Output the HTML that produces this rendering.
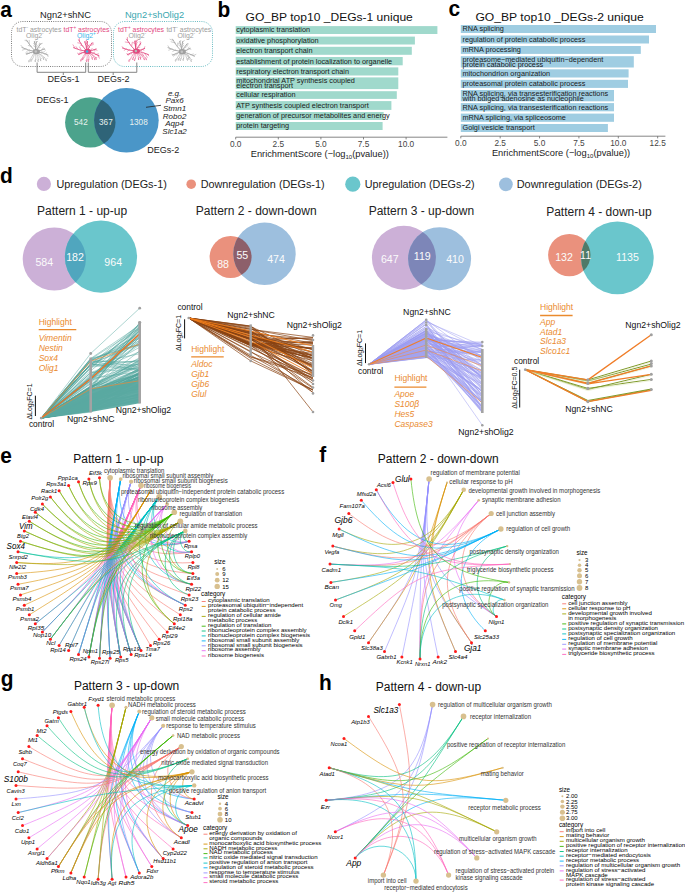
<!DOCTYPE html>
<html><head><meta charset="utf-8"><style>
html,body{margin:0;padding:0;background:#fff;width:685px;height:893px;overflow:hidden}
svg{display:block}
text{font-family:"Liberation Sans",sans-serif}
</style></head><body>
<svg width="685" height="893" viewBox="0 0 685 893">
<rect width="685" height="893" fill="#fff"/>
<text transform="translate(0.30 16.80) scale(0.95 1)" font-size="22" font-weight="bold" fill="#000">a</text>
<text x="65.5" y="17.8" font-size="9.3" fill="#222" text-anchor="middle">Ngn2+shNC</text>
<text x="154.5" y="17.8" font-size="9.3" fill="#3aa7b0" text-anchor="middle">Ngn2+shOlig2</text>
<rect x="11.5" y="21.5" width="100" height="45" rx="11" ry="11" fill="none" stroke="#555" stroke-width="0.85" stroke-dasharray="0.9 1.3"/>
<rect x="113.5" y="21.5" width="99" height="45" rx="11" ry="11" fill="none" stroke="#3aa7b0" stroke-width="0.85" stroke-dasharray="0.9 1.3"/>
<text x="16.5" y="31.6" font-size="6.9"><tspan fill="#9c9c9c">tdT</tspan><tspan fill="#9c9c9c" font-size="4.6" dy="-2.6">-</tspan><tspan dy="2.6"> </tspan><tspan fill="#9c9c9c">astrocytes</tspan></text>
<text x="26.0" y="38.0" font-size="6.9"><tspan fill="#9c9c9c">Olig2</tspan><tspan fill="#9c9c9c" font-size="4.6" dy="-2.6">-</tspan><tspan dy="2.6"> </tspan></text>
<text x="63.5" y="31.6" font-size="6.9"><tspan fill="#e2497f">tdT</tspan><tspan fill="#e2497f" font-size="4.6" dy="-2.6">+</tspan><tspan dy="2.6"> </tspan><tspan fill="#e2497f">astrocytes</tspan></text>
<text x="77.0" y="38.0" font-size="6.9"><tspan fill="#3db4e8">Olig2</tspan><tspan fill="#3db4e8" font-size="4.6" dy="-2.6">+</tspan><tspan dy="2.6"> </tspan></text>
<text x="118.0" y="31.6" font-size="6.9"><tspan fill="#e2497f">tdT</tspan><tspan fill="#e2497f" font-size="4.6" dy="-2.6">+</tspan><tspan dy="2.6"> </tspan><tspan fill="#e2497f">astrocytes</tspan></text>
<text x="128.5" y="38.0" font-size="6.9"><tspan fill="#9c9c9c">Olig2</tspan><tspan fill="#9c9c9c" font-size="4.6" dy="-2.6">-</tspan><tspan dy="2.6"> </tspan></text>
<text x="166.4" y="31.6" font-size="6.9"><tspan fill="#9c9c9c">tdT</tspan><tspan fill="#9c9c9c" font-size="4.6" dy="-2.6">-</tspan><tspan dy="2.6"> </tspan><tspan fill="#9c9c9c">astrocytes</tspan></text>
<text x="177.5" y="38.0" font-size="6.9"><tspan fill="#9c9c9c">Olig2</tspan><tspan fill="#9c9c9c" font-size="4.6" dy="-2.6">-</tspan><tspan dy="2.6"> </tspan></text>
<path d="M35.8 51.6Q30.2 46.6 26.4 40.0 M35.8 51.6Q35.9 46.4 34.4 41.5 M35.8 51.6Q35.3 46.6 36.4 41.6 M35.8 51.6Q37.8 47.1 41.0 43.4 M35.8 51.6Q40.4 50.9 44.6 48.9 M35.8 51.6Q28.5 50.7 21.9 47.5 M35.8 51.6Q30.9 52.1 26.3 54.2 M35.8 51.6Q42.2 52.3 48.0 55.0" stroke="#a0a0a0" stroke-width="0.85" fill="none" stroke-linecap="round"/>
<path d="M31.6 46.4L28.3 45.5 M29.2 43.5L29.2 40.3 M27.3 41.2L24.9 40.4 M35.2 47.1L33.6 45.8 M34.8 44.5L33.5 43.4 M34.5 42.5L35.2 41.0 M36.1 47.1L38.2 45.2 M36.3 44.6L34.7 42.5 M36.4 42.6L37.8 41.2 M38.1 47.9L40.2 47.6 M39.4 45.9L39.4 43.1 M40.5 44.2L42.3 43.4 M39.7 50.4L42.1 51.4 M41.9 49.7L43.2 47.9 M43.7 49.1L45.5 50.2 M29.5 49.8L26.8 51.3 M26.1 48.8L22.3 50.2 M23.3 47.9L20.9 45.3 M31.5 52.8L29.2 51.8 M29.2 53.4L26.8 52.8 M27.3 53.9L25.7 53.1 M41.3 53.1L44.4 51.7 M44.3 54.0L46.7 53.0 M46.8 54.7L48.2 56.7 M34.0 53.1Q31.7 56.6 28.9 62.2q-1.2 -1.5 0.6 -2.6 M34.8 53.1Q34.1 56.6 31.0 61.7q-1.2 -1.5 0.6 -2.6 M35.5 53.1Q36.5 56.6 35.3 62.0q-1.2 -1.5 0.6 -2.6 M36.3 53.1Q38.9 56.6 38.2 61.8q-1.2 -1.5 0.6 -2.6 M37.0 53.1Q41.3 56.6 40.8 61.1q-1.2 -1.5 0.6 -2.6 M37.8 53.1Q43.7 56.6 43.7 59.8q-1.2 -1.5 0.6 -2.6 M38.3 53.1Q45.3 56.6 46.4 61.1q-1.2 -1.5 0.6 -2.6" stroke="#a0a0a0" stroke-width="0.5" fill="none" stroke-linecap="round"/>
<ellipse cx="36.3" cy="51.6" rx="3.6" ry="2.6" fill="#a0a0a0"/>
<circle cx="35.80" cy="51.60" r="1.25" fill="#c4c4c4"/>
<path d="M87.1 51.4Q82.0 46.3 78.6 39.9 M87.1 51.4Q86.7 46.3 84.7 41.6 M87.1 51.4Q86.5 46.4 87.5 41.4 M87.1 51.4Q88.9 46.7 92.1 42.7 M87.1 51.4Q91.8 50.9 96.2 49.0 M87.1 51.4Q80.0 50.7 73.5 47.7 M87.1 51.4Q82.6 52.3 78.6 54.5 M87.1 51.4Q93.4 52.6 99.1 55.8" stroke="#e2497f" stroke-width="0.85" fill="none" stroke-linecap="round"/>
<path d="M83.3 46.2L80.5 45.1 M81.2 43.4L77.7 42.8 M79.5 41.1L79.4 38.4 M86.0 47.0L87.3 44.7 M85.5 44.6L86.5 42.6 M85.0 42.6L86.5 40.3 M87.3 46.9L89.1 44.8 M87.4 44.4L86.2 42.9 M87.5 42.4L86.5 40.8 M89.4 47.5L88.6 45.4 M90.6 45.3L93.3 44.6 M91.6 43.6L93.6 43.1 M91.2 50.3L92.1 48.5 M93.5 49.7L95.1 50.6 M95.3 49.2L97.1 50.4 M81.0 49.7L79.6 47.0 M77.6 48.8L76.0 46.6 M74.9 48.1L73.0 44.8 M83.3 52.8L80.8 52.1 M81.1 53.6L79.5 53.1 M79.4 54.2L77.5 53.2 M92.5 53.4L94.6 52.2 M95.5 54.5L98.6 53.9 M97.9 55.3L99.4 58.2 M85.3 52.9Q83.0 56.4 80.8 61.4q-1.2 -1.5 0.6 -2.6 M86.1 52.9Q85.4 56.4 82.5 60.1q-1.2 -1.5 0.6 -2.6 M86.8 52.9Q87.8 56.4 86.6 61.9q-1.2 -1.5 0.6 -2.6 M87.6 52.9Q90.2 56.4 88.4 61.8q-1.2 -1.5 0.6 -2.6 M88.3 52.9Q92.6 56.4 92.5 59.6q-1.2 -1.5 0.6 -2.6 M89.1 52.9Q95.0 56.4 94.9 60.1q-1.2 -1.5 0.6 -2.6 M89.6 52.9Q96.6 56.4 96.3 59.7q-1.2 -1.5 0.6 -2.6" stroke="#e2497f" stroke-width="0.5" fill="none" stroke-linecap="round"/>
<ellipse cx="87.6" cy="51.4" rx="3.6" ry="2.6" fill="#e2497f"/>
<circle cx="87.10" cy="51.40" r="1.25" fill="#3db4e8"/>
<path d="M135.9 51.1Q130.3 45.9 126.6 39.2 M135.9 51.1Q136.1 46.0 134.7 41.1 M135.9 51.1Q135.1 46.0 136.0 40.9 M135.9 51.1Q137.7 46.6 140.8 43.0 M135.9 51.1Q140.5 50.5 144.7 48.5 M135.9 51.1Q128.9 50.6 122.4 48.0 M135.9 51.1Q131.3 52.2 127.3 54.7 M135.9 51.1Q142.5 51.8 148.5 54.6" stroke="#e2497f" stroke-width="0.85" fill="none" stroke-linecap="round"/>
<path d="M131.7 45.7L132.3 42.4 M129.4 42.7L125.2 42.0 M127.5 40.3L127.4 37.4 M135.4 46.6L136.8 44.2 M135.1 44.1L132.9 42.3 M134.8 42.1L136.4 40.1 M135.9 46.5L134.9 45.1 M136.0 44.0L137.6 42.0 M136.0 41.9L138.0 39.9 M138.1 47.4L139.8 47.1 M139.3 45.4L140.8 44.6 M140.3 43.8L140.1 41.4 M139.9 49.9L141.7 50.7 M142.1 49.3L143.9 50.1 M143.9 48.8L144.8 46.7 M129.8 49.7L127.4 51.2 M126.5 48.9L124.2 50.3 M123.8 48.3L122.2 46.6 M132.0 52.7L131.2 54.1 M129.9 53.6L128.7 55.2 M128.2 54.3L126.8 53.7 M141.6 52.7L143.6 55.7 M144.7 53.5L146.9 56.7 M147.3 54.2L148.9 55.9 M134.2 52.6Q131.8 56.1 129.0 61.7q-1.2 -1.5 0.6 -2.6 M134.9 52.6Q134.2 56.1 132.7 59.9q-1.2 -1.5 0.6 -2.6 M135.7 52.6Q136.6 56.1 134.5 61.0q-1.2 -1.5 0.6 -2.6 M136.4 52.6Q139.0 56.1 138.7 60.0q-1.2 -1.5 0.6 -2.6 M137.2 52.6Q141.4 56.1 140.7 59.5q-1.2 -1.5 0.6 -2.6 M137.9 52.6Q143.8 56.1 144.5 60.1q-1.2 -1.5 0.6 -2.6 M138.4 52.6Q145.4 56.1 146.5 60.1q-1.2 -1.5 0.6 -2.6" stroke="#e2497f" stroke-width="0.5" fill="none" stroke-linecap="round"/>
<ellipse cx="136.4" cy="51.1" rx="3.6" ry="2.6" fill="#e2497f"/>
<circle cx="135.90" cy="51.10" r="1.25" fill="#b8b8b8"/>
<path d="M181.8 51.7Q176.1 46.2 172.5 39.2 M181.8 51.7Q181.6 46.3 179.7 41.3 M181.8 51.7Q181.4 46.5 182.6 41.5 M181.8 51.7Q183.9 47.3 187.2 43.7 M181.8 51.7Q186.3 50.7 190.2 48.4 M181.8 51.7Q174.6 50.8 168.0 47.7 M181.8 51.7Q176.9 52.7 172.6 55.1 M181.8 51.7Q188.5 52.9 194.5 56.2" stroke="#a0a0a0" stroke-width="0.85" fill="none" stroke-linecap="round"/>
<path d="M177.6 46.1L177.7 43.4 M175.3 43.0L171.1 41.8 M173.4 40.5L170.0 39.3 M180.9 47.0L178.7 45.0 M180.4 44.4L178.0 42.9 M179.9 42.3L180.8 40.4 M182.1 47.1L183.6 45.1 M182.3 44.5L183.7 43.2 M182.5 42.5L184.3 40.3 M184.2 48.1L186.0 47.3 M185.6 46.1L187.7 45.8 M186.6 44.5L188.5 43.9 M185.6 50.2L187.0 50.8 M187.7 49.4L189.0 47.1 M189.4 48.7L190.9 49.3 M175.6 49.9L172.8 51.3 M172.1 48.9L168.7 50.2 M169.4 48.1L168.0 45.8 M177.7 53.2L176.3 55.2 M175.4 54.1L173.7 56.3 M173.5 54.8L171.9 54.2 M187.5 53.7L189.2 57.2 M190.7 54.8L193.4 54.0 M193.3 55.7L195.9 54.4 M180.1 53.2Q177.7 56.7 175.5 61.4q-1.2 -1.5 0.6 -2.6 M180.8 53.2Q180.1 56.7 178.3 60.5q-1.2 -1.5 0.6 -2.6 M181.6 53.2Q182.5 56.7 180.3 60.9q-1.2 -1.5 0.6 -2.6 M182.3 53.2Q184.9 56.7 183.2 60.7q-1.2 -1.5 0.6 -2.6 M183.1 53.2Q187.3 56.7 187.5 60.6q-1.2 -1.5 0.6 -2.6 M183.8 53.2Q189.7 56.7 189.0 59.8q-1.2 -1.5 0.6 -2.6 M184.3 53.2Q191.3 56.7 191.3 61.8q-1.2 -1.5 0.6 -2.6" stroke="#a0a0a0" stroke-width="0.5" fill="none" stroke-linecap="round"/>
<ellipse cx="182.3" cy="51.7" rx="3.6" ry="2.6" fill="#a0a0a0"/>
<circle cx="181.80" cy="51.70" r="1.25" fill="#c4c4c4"/>
<path d="M37.1 62.5V72.3H85.7V62.5M63.3 72.3V75" stroke="#777" stroke-width="0.9" fill="none"/>
<path d="M88.3 62.5V72.3H136.8V62.5M113.2 72.3V75" stroke="#777" stroke-width="0.9" fill="none"/>
<text x="63.4" y="82.4" font-size="9" fill="#222" text-anchor="middle">DEGs-1</text>
<text x="113.5" y="82.4" font-size="9" fill="#222" text-anchor="middle">DEGs-2</text>
<defs><clipPath id="cg"><circle cx="90.3" cy="122.4" r="25.2"/></clipPath></defs>
<circle cx="90.30" cy="122.40" r="25.20" fill="#4ca38c"/>
<circle cx="126.40" cy="120.30" r="32.30" fill="#4a96c8"/>
<circle cx="126.40" cy="120.30" r="32.30" fill="#2f6478" clip-path="url(#cg)"/>
<text x="80.9" y="124.7" font-size="8.2" fill="#e8f2ee" text-anchor="middle">542</text>
<text x="105.9" y="124.7" font-size="8.2" fill="#e8f2ee" text-anchor="middle">367</text>
<text x="138.6" y="124.7" font-size="8.2" fill="#e8f2ee" text-anchor="middle">1308</text>
<text x="52.5" y="103.2" font-size="9" fill="#222" text-anchor="middle">DEGs-1</text>
<text x="163.2" y="152.8" font-size="9" fill="#222" text-anchor="middle">DEGs-2</text>
<text x="174.6" y="95.5" font-size="8" fill="#222" text-anchor="middle" font-style="italic">e.g.</text>
<text x="174.6" y="103.2" font-size="8" fill="#222" text-anchor="middle" font-style="italic">Pax6</text>
<text x="174.6" y="110.9" font-size="8" fill="#222" text-anchor="middle" font-style="italic">Stmn1</text>
<text x="174.6" y="118.6" font-size="8" fill="#222" text-anchor="middle" font-style="italic">Robo2</text>
<text x="174.6" y="126.3" font-size="8" fill="#222" text-anchor="middle" font-style="italic">Aqp4</text>
<text x="174.6" y="134.0" font-size="8" fill="#222" text-anchor="middle" font-style="italic">Slc1a2</text>
<line x1="146.00" y1="107.30" x2="161.00" y2="105.30" stroke="#222" stroke-width="0.8"/>
<text transform="translate(217.40 16.70) scale(0.95 1)" font-size="22" font-weight="bold" fill="#000">b</text>
<text x="245.6" y="21.0" font-size="11.8" fill="#111" textLength="167.2" lengthAdjust="spacingAndGlyphs">GO_BP top10 _DEGs-1 unique</text>
<rect x="235.70" y="26.10" width="201.70" height="7.90" fill="#a0d9cc"/>
<text x="236.3" y="32.3" font-size="7.3" fill="#1a1a1a">cytoplasmic translation</text>
<rect x="235.70" y="36.60" width="179.20" height="7.90" fill="#a0d9cc"/>
<text x="236.3" y="42.8" font-size="7.3" fill="#1a1a1a">oxidative phosphorylation</text>
<rect x="235.70" y="46.80" width="176.10" height="8.00" fill="#a0d9cc"/>
<text x="236.3" y="53.1" font-size="7.3" fill="#1a1a1a">electron transport chain</text>
<rect x="235.70" y="57.00" width="167.00" height="8.30" fill="#a0d9cc"/>
<text x="236.3" y="63.6" font-size="7.3" fill="#1a1a1a">establishment of protein localization to organelle</text>
<rect x="235.70" y="67.40" width="162.60" height="8.10" fill="#a0d9cc"/>
<text x="236.3" y="73.8" font-size="7.3" fill="#1a1a1a">respiratory electron transport chain</text>
<rect x="235.70" y="77.40" width="162.60" height="11.70" fill="#a0d9cc"/>
<text x="236.3" y="83.3" font-size="7.3" fill="#1a1a1a">mitochondrial ATP synthesis coupled</text>
<text x="236.3" y="88.2" font-size="7.3" fill="#1a1a1a">electron transport</text>
<rect x="235.70" y="91.20" width="161.10" height="7.70" fill="#a0d9cc"/>
<text x="236.3" y="97.2" font-size="7.3" fill="#1a1a1a">cellular respiration</text>
<rect x="235.70" y="101.10" width="155.70" height="8.80" fill="#a0d9cc"/>
<text x="236.3" y="108.2" font-size="7.3" fill="#1a1a1a">ATP synthesis coupled electron transport</text>
<rect x="235.70" y="112.00" width="147.90" height="8.00" fill="#a0d9cc"/>
<text x="236.3" y="118.3" font-size="7.3" fill="#1a1a1a">generation of precursor metabolites and energy</text>
<rect x="235.70" y="122.00" width="146.90" height="8.00" fill="#a0d9cc"/>
<text x="236.3" y="128.3" font-size="7.3" fill="#1a1a1a">protein targeting</text>
<line x1="235.70" y1="137.20" x2="447.40" y2="137.20" stroke="#666" stroke-width="0.8"/>
<line x1="235.70" y1="137.20" x2="235.70" y2="139.40" stroke="#666" stroke-width="0.8"/>
<text x="235.7" y="146.9" font-size="8.3" fill="#444" text-anchor="middle">0.0</text>
<line x1="278.30" y1="137.20" x2="278.30" y2="139.40" stroke="#666" stroke-width="0.8"/>
<text x="278.3" y="146.9" font-size="8.3" fill="#444" text-anchor="middle">2.5</text>
<line x1="320.90" y1="137.20" x2="320.90" y2="139.40" stroke="#666" stroke-width="0.8"/>
<text x="320.9" y="146.9" font-size="8.3" fill="#444" text-anchor="middle">5.0</text>
<line x1="363.50" y1="137.20" x2="363.50" y2="139.40" stroke="#666" stroke-width="0.8"/>
<text x="363.5" y="146.9" font-size="8.3" fill="#444" text-anchor="middle">7.5</text>
<line x1="406.10" y1="137.20" x2="406.10" y2="139.40" stroke="#666" stroke-width="0.8"/>
<text x="406.1" y="146.9" font-size="8.3" fill="#444" text-anchor="middle">10.0</text>
<text x="250.7" y="157.1" font-size="9.3" fill="#222">EnrichmentScore (−log<tspan font-size="6" dy="2">10</tspan><tspan dy="-2">(pvalue))</tspan></text>
<text transform="translate(448.50 16.40) scale(0.95 1)" font-size="22" font-weight="bold" fill="#000">c</text>
<text x="475.4" y="21.0" font-size="11.8" fill="#111" textLength="168.4" lengthAdjust="spacingAndGlyphs">GO_BP top10 _DEGs-2 unique</text>
<rect x="460.80" y="25.00" width="195.20" height="8.00" fill="#9fcde2"/>
<text x="462.5" y="31.3" font-size="7.3" fill="#1a1a1a">RNA splicing</text>
<rect x="460.80" y="35.50" width="188.20" height="8.00" fill="#9fcde2"/>
<text x="462.5" y="41.8" font-size="7.3" fill="#1a1a1a">regulation of protein catabolic process</text>
<rect x="460.80" y="46.00" width="180.00" height="7.90" fill="#9fcde2"/>
<text x="462.5" y="52.2" font-size="7.3" fill="#1a1a1a">mRNA processing</text>
<rect x="460.80" y="56.20" width="173.00" height="11.30" fill="#9fcde2"/>
<text x="462.5" y="62.1" font-size="7.3" fill="#1a1a1a">proteasome−mediated ubiquitin−dependent</text>
<text x="462.5" y="66.8" font-size="7.3" fill="#1a1a1a">protein catabolic process</text>
<rect x="460.80" y="69.30" width="167.80" height="8.20" fill="#9fcde2"/>
<text x="462.5" y="75.8" font-size="7.3" fill="#1a1a1a">mitochondrion organization</text>
<rect x="460.80" y="79.80" width="167.20" height="8.10" fill="#9fcde2"/>
<text x="462.5" y="86.2" font-size="7.3" fill="#1a1a1a">proteasomal protein catabolic process</text>
<rect x="460.80" y="90.00" width="153.20" height="11.30" fill="#9fcde2"/>
<text x="462.5" y="95.9" font-size="7.3" fill="#1a1a1a">RNA splicing, via transesterification reactions</text>
<text x="462.5" y="100.6" font-size="7.3" fill="#1a1a1a">with bulged adenosine as nucleophile</text>
<rect x="460.80" y="103.10" width="153.20" height="8.20" fill="#9fcde2"/>
<text x="462.5" y="109.6" font-size="7.3" fill="#1a1a1a">RNA splicing, via transesterification reactions</text>
<rect x="460.80" y="113.60" width="153.20" height="8.20" fill="#9fcde2"/>
<text x="462.5" y="120.1" font-size="7.3" fill="#1a1a1a">mRNA splicing, via spliceosome</text>
<rect x="460.80" y="124.00" width="147.10" height="8.00" fill="#9fcde2"/>
<text x="462.5" y="130.3" font-size="7.3" fill="#1a1a1a">Golgi vesicle transport</text>
<line x1="460.80" y1="136.20" x2="665.40" y2="136.20" stroke="#666" stroke-width="0.8"/>
<line x1="460.80" y1="136.20" x2="460.80" y2="138.40" stroke="#666" stroke-width="0.8"/>
<text x="460.8" y="145.5" font-size="8.3" fill="#444" text-anchor="middle">0.0</text>
<line x1="500.18" y1="136.20" x2="500.18" y2="138.40" stroke="#666" stroke-width="0.8"/>
<text x="500.2" y="145.5" font-size="8.3" fill="#444" text-anchor="middle">2.5</text>
<line x1="539.55" y1="136.20" x2="539.55" y2="138.40" stroke="#666" stroke-width="0.8"/>
<text x="539.5" y="145.5" font-size="8.3" fill="#444" text-anchor="middle">5.0</text>
<line x1="578.92" y1="136.20" x2="578.92" y2="138.40" stroke="#666" stroke-width="0.8"/>
<text x="578.9" y="145.5" font-size="8.3" fill="#444" text-anchor="middle">7.5</text>
<line x1="618.30" y1="136.20" x2="618.30" y2="138.40" stroke="#666" stroke-width="0.8"/>
<text x="618.3" y="145.5" font-size="8.3" fill="#444" text-anchor="middle">10.0</text>
<line x1="657.67" y1="136.20" x2="657.67" y2="138.40" stroke="#666" stroke-width="0.8"/>
<text x="657.7" y="145.5" font-size="8.3" fill="#444" text-anchor="middle">12.5</text>
<text x="491.9" y="156.3" font-size="9.3" fill="#222">EnrichmentScore (−log<tspan font-size="6" dy="2">10</tspan><tspan dy="-2">(pvalue))</tspan></text>
<text transform="translate(0.00 183.20) scale(0.95 1)" font-size="22" font-weight="bold" fill="#000">d</text>
<circle cx="43.90" cy="183.90" r="7.10" fill="#ccb0d7"/>
<text x="56.5" y="187.9" font-size="10.6" fill="#222" textLength="110.3" lengthAdjust="spacingAndGlyphs">Upregulation (DEGs-1)</text>
<circle cx="191.20" cy="184.20" r="4.80" fill="#ea917d"/>
<text x="200.7" y="187.7" font-size="10.6" fill="#222" textLength="123.9" lengthAdjust="spacingAndGlyphs">Downregulation (DEGs-1)</text>
<circle cx="352.80" cy="184.20" r="7.60" fill="#6ac6cc"/>
<text x="364.8" y="187.7" font-size="10.6" fill="#222" textLength="109.8" lengthAdjust="spacingAndGlyphs">Upregulation (DEGs-2)</text>
<circle cx="505.90" cy="184.30" r="6.90" fill="#9dbfde"/>
<text x="516.7" y="188.0" font-size="10.6" fill="#222" textLength="125.1" lengthAdjust="spacingAndGlyphs">Downregulation (DEGs-2)</text>
<text x="82.1" y="214.9" font-size="12" fill="#222" text-anchor="middle">Pattern 1 - up-up</text>
<text x="256.2" y="214.8" font-size="12" fill="#222" text-anchor="middle">Pattern 2 - down-down</text>
<text x="421.4" y="214.8" font-size="12" fill="#222" text-anchor="middle">Pattern 3 - up-down</text>
<text x="598.9" y="215.5" font-size="12" fill="#222" text-anchor="middle">Pattern 4 - down-up</text>
<defs><clipPath id="v1"><circle cx="54.3" cy="259.0" r="31.6"/></clipPath></defs>
<circle cx="54.30" cy="259.00" r="31.60" fill="#ccb0d7"/>
<circle cx="101.00" cy="256.70" r="36.10" fill="#6ac6cc"/>
<circle cx="101.00" cy="256.70" r="36.10" fill="#50a6be" clip-path="url(#v1)"/>
<text x="44.3" y="266.0" font-size="10.6" fill="#fbfbfb" text-anchor="middle">584</text>
<text x="75.0" y="261.3" font-size="10.6" fill="#fbfbfb" text-anchor="middle">182</text>
<text x="113.2" y="266.0" font-size="10.6" fill="#fbfbfb" text-anchor="middle">964</text>
<defs><clipPath id="v2"><circle cx="230.6" cy="257.0" r="21.0"/></clipPath></defs>
<circle cx="230.60" cy="257.00" r="21.00" fill="#ea917d"/>
<circle cx="264.50" cy="253.80" r="31.20" fill="#9dbfde"/>
<circle cx="264.50" cy="253.80" r="31.20" fill="#8d5f6a" clip-path="url(#v2)"/>
<text x="223.1" y="267.8" font-size="10.6" fill="#fbfbfb" text-anchor="middle">88</text>
<text x="242.3" y="258.8" font-size="10.6" fill="#fbfbfb" text-anchor="middle">55</text>
<text x="276.0" y="262.9" font-size="10.6" fill="#fbfbfb" text-anchor="middle">474</text>
<defs><clipPath id="v3"><circle cx="403.9" cy="257.7" r="32.0"/></clipPath></defs>
<circle cx="403.90" cy="257.70" r="32.00" fill="#ccb0d7"/>
<circle cx="439.60" cy="258.70" r="31.50" fill="#9dbfde"/>
<circle cx="439.60" cy="258.70" r="31.50" fill="#7d86b8" clip-path="url(#v3)"/>
<text x="389.8" y="263.4" font-size="10.6" fill="#fbfbfb" text-anchor="middle">647</text>
<text x="422.3" y="259.6" font-size="10.6" fill="#fbfbfb" text-anchor="middle">119</text>
<text x="455.0" y="263.4" font-size="10.6" fill="#fbfbfb" text-anchor="middle">410</text>
<defs><clipPath id="v4"><circle cx="569.3" cy="255.1" r="21.2"/></clipPath></defs>
<circle cx="569.30" cy="255.10" r="21.20" fill="#ea917d"/>
<circle cx="617.40" cy="257.90" r="36.30" fill="#6ac6cc"/>
<circle cx="617.40" cy="257.90" r="36.30" fill="#4f7a68" clip-path="url(#v4)"/>
<text x="564.0" y="261.3" font-size="10.6" fill="#fbfbfb" text-anchor="middle">132</text>
<text x="585.6" y="259.4" font-size="10.6" fill="#fbfbfb" text-anchor="middle">11</text>
<text x="627.5" y="261.3" font-size="10.6" fill="#fbfbfb" text-anchor="middle">1135</text>
<path d="M41.2 418.1L90.7 372.5L139.7 368.2 M41.2 418.1L90.7 372.9L139.7 351.6 M41.2 418.1L90.7 363.9L139.7 353.7 M41.2 418.1L90.7 383.4L139.7 337.5 M41.2 418.1L90.7 360.9L139.7 338.1 M41.2 418.1L90.7 359.3L139.7 344.2 M41.2 418.1L90.7 378.9L139.7 330.3 M41.2 418.1L90.7 358.5L139.7 325.4 M41.2 418.1L90.7 364.1L139.7 324.0 M41.2 418.1L90.7 372.8L139.7 364.2 M41.2 418.1L90.7 374.6L139.7 347.2 M41.2 418.1L90.7 379.2L139.7 336.3 M41.2 418.1L90.7 389.9L139.7 341.4 M41.2 418.1L90.7 380.6L139.7 333.9 M41.2 418.1L90.7 367.2L139.7 360.4 M41.2 418.1L90.7 370.8L139.7 331.2 M41.2 418.1L90.7 388.7L139.7 322.5 M41.2 418.1L90.7 364.7L139.7 333.1 M41.2 418.1L90.7 389.4L139.7 326.1 M41.2 418.1L90.7 378.1L139.7 335.9 M41.2 418.1L90.7 360.8L139.7 370.2 M41.2 418.1L90.7 382.3L139.7 334.7 M41.2 418.1L90.7 361.2L139.7 362.0 M41.2 418.1L90.7 363.7L139.7 344.6 M41.2 418.1L90.7 364.1L139.7 329.0 M41.2 418.1L90.7 378.6L139.7 343.3 M41.2 418.1L90.7 364.8L139.7 370.6 M41.2 418.1L90.7 383.7L139.7 366.3 M41.2 418.1L90.7 364.7L139.7 364.8 M41.2 418.1L90.7 378.5L139.7 371.5 M41.2 418.1L90.7 364.8L139.7 360.7 M41.2 418.1L90.7 368.5L139.7 326.1 M41.2 418.1L90.7 360.9L139.7 334.5 M41.2 418.1L90.7 377.2L139.7 344.9 M41.2 418.1L90.7 388.7L139.7 350.9 M41.2 418.1L90.7 385.7L139.7 330.1 M41.2 418.1L90.7 387.1L139.7 328.1 M41.2 418.1L90.7 364.1L139.7 369.1 M41.2 418.1L90.7 364.3L139.7 342.3 M41.2 418.1L90.7 377.3L139.7 327.6 M41.2 418.1L90.7 359.2L139.7 327.9 M41.2 418.1L90.7 380.5L139.7 363.3 M41.2 418.1L90.7 377.1L139.7 331.2 M41.2 418.1L90.7 381.1L139.7 333.8 M41.2 418.1L90.7 375.9L139.7 336.3 M41.2 418.1L90.7 367.0L139.7 327.1 M41.2 418.1L90.7 358.5L139.7 344.6 M41.2 418.1L90.7 359.9L139.7 340.8 M41.2 418.1L90.7 376.3L139.7 340.4 M41.2 418.1L90.7 386.5L139.7 337.3 M41.2 418.1L90.7 380.1L139.7 329.4 M41.2 418.1L90.7 359.1L139.7 367.6 M41.2 418.1L90.7 380.4L139.7 323.0 M41.2 418.1L90.7 378.4L139.7 358.7 M41.2 418.1L90.7 368.2L139.7 324.2 M41.2 418.1L90.7 400.2L139.7 377.0 M41.2 418.1L90.7 409.4L139.7 386.2 M41.2 418.1L90.7 404.3L139.7 379.7 M41.2 418.1L90.7 409.8L139.7 396.6 M41.2 418.1L90.7 403.8L139.7 376.4 M41.2 418.1L90.7 408.6L139.7 393.8 M41.2 418.1L90.7 406.6L139.7 380.1 M41.2 418.1L90.7 400.9L139.7 380.6 M41.2 418.1L90.7 395.9L139.7 376.8 M41.2 418.1L90.7 401.8L139.7 395.7 M41.2 418.1L90.7 402.6L139.7 372.8 M41.2 418.1L90.7 408.9L139.7 385.9 M41.2 418.1L90.7 396.1L139.7 373.0 M41.2 418.1L90.7 401.1L139.7 385.7 M41.2 418.1L90.7 407.8L139.7 401.6 M41.2 418.1L90.7 405.5L139.7 400.7 M41.2 418.1L90.7 401.6L139.7 385.1 M41.2 418.1L90.7 392.0L139.7 369.8 M41.2 418.1L90.7 398.9L139.7 379.0 M41.2 418.1L90.7 409.9L139.7 399.3 M41.2 418.1L90.7 386.3L139.7 374.5 M41.2 418.1L90.7 403.6L139.7 394.4 M41.2 418.1L90.7 390.4L139.7 362.9 M41.2 418.1L90.7 403.2L139.7 387.7 M41.2 418.1L90.7 409.2L139.7 396.7 M41.2 418.1L90.7 403.3L139.7 394.2 M41.2 418.1L90.7 397.2L139.7 372.2 M41.2 418.1L90.7 409.8L139.7 382.9 M41.2 418.1L90.7 396.0L139.7 376.8 M41.2 418.1L90.7 394.2L139.7 386.7 M41.2 418.1L90.7 398.9L139.7 373.1 M41.2 418.1L90.7 408.1L139.7 385.6 M41.2 418.1L90.7 410.7L139.7 399.5 M41.2 418.1L90.7 390.4L139.7 374.7 M41.2 418.1L90.7 393.2L139.7 383.6 M41.2 418.1L90.7 396.8L139.7 376.5 M41.2 418.1L90.7 398.8L139.7 386.6 M41.2 418.1L90.7 407.8L139.7 378.3 M41.2 418.1L90.7 397.8L139.7 391.8 M41.2 418.1L90.7 386.8L139.7 360.1 M41.2 418.1L90.7 387.1L139.7 364.7 M41.2 418.1L90.7 400.8L139.7 388.8 M41.2 418.1L90.7 406.6L139.7 402.1 M41.2 418.1L90.7 389.5L139.7 373.7 M41.2 418.1L90.7 386.6L139.7 361.1 M41.2 418.1L90.7 392.2L139.7 384.5 M41.2 418.1L90.7 387.2L139.7 366.9 M41.2 418.1L90.7 397.6L139.7 377.2 M41.2 418.1L90.7 403.0L139.7 378.0 M41.2 418.1L90.7 410.9L139.7 389.1 M41.2 418.1L90.7 391.2L139.7 374.8 M41.2 418.1L90.7 390.6L139.7 386.4 M41.2 418.1L90.7 398.3L139.7 375.7 M41.2 418.1L90.7 390.7L139.7 379.6 M41.2 418.1L90.7 395.0L139.7 372.9 M41.2 418.1L90.7 399.5L139.7 379.6 M41.2 418.1L90.7 405.7L139.7 391.4 M41.2 418.1L90.7 406.6L139.7 379.0 M41.2 418.1L90.7 388.3L139.7 360.0 M41.2 418.1L90.7 404.8L139.7 397.4 M41.2 418.1L90.7 397.8L139.7 377.5 M41.2 418.1L90.7 409.7L139.7 395.9 M41.2 418.1L90.7 400.8L139.7 373.9 M41.2 418.1L90.7 406.7L139.7 378.2 M41.2 418.1L90.7 398.1L139.7 377.1 M41.2 418.1L90.7 391.3L139.7 368.6 M41.2 418.1L90.7 407.3L139.7 386.6 M41.2 418.1L90.7 404.7L139.7 395.1 M41.2 418.1L90.7 409.4L139.7 379.9 M41.2 418.1L90.7 411.4L139.7 393.5 M41.2 418.1L90.7 406.6L139.7 394.2 M41.2 418.1L90.7 409.7L139.7 383.4 M41.2 418.1L90.7 395.1L139.7 388.9 M41.2 418.1L90.7 397.5L139.7 379.2 M41.2 418.1L90.7 406.0L139.7 389.3 M41.2 418.1L90.7 386.7L139.7 361.7 M41.2 418.1L90.7 387.7L139.7 362.9 M41.2 418.1L90.7 390.5L139.7 377.8 M41.2 418.1L90.7 406.5L139.7 398.8 M41.2 418.1L90.7 389.9L139.7 372.4 M41.2 418.1L90.7 404.8L139.7 379.0 M41.2 418.1L90.7 403.9L139.7 375.3 M41.2 418.1L90.7 398.8L139.7 370.1 M41.2 418.1L90.7 388.2L139.7 378.5 M41.2 418.1L90.7 399.7L139.7 388.1 M41.2 418.1L90.7 404.9L139.7 384.3 M41.2 418.1L90.7 399.6L139.7 373.7 M41.2 418.1L90.7 400.6L139.7 388.5 M41.2 418.1L90.7 395.9L139.7 369.9 M41.2 418.1L90.7 409.4L139.7 400.0 M41.2 418.1L90.7 408.1L139.7 378.9 M41.2 418.1L90.7 399.6L139.7 380.7 M41.2 418.1L90.7 391.2L139.7 373.3 M41.2 418.1L90.7 399.1L139.7 379.3 M41.2 418.1L90.7 386.7L139.7 357.5 M41.2 418.1L90.7 399.4L139.7 385.0 M41.2 418.1L90.7 406.8L139.7 388.2 M41.2 418.1L90.7 398.8L139.7 376.8 M41.2 418.1L90.7 387.7L139.7 369.7 M41.2 418.1L90.7 396.8L139.7 367.9 M41.2 418.1L90.7 410.0L139.7 399.0 M41.2 418.1L90.7 398.3L139.7 391.0 M41.2 418.1L90.7 397.3L139.7 372.1 M41.2 418.1L90.7 409.4L139.7 393.0 M41.2 418.1L90.7 394.2L139.7 385.3 M41.2 418.1L90.7 402.1L139.7 374.0 M41.2 418.1L90.7 389.4L139.7 365.1 M41.2 418.1L90.7 386.6L139.7 377.5 M41.2 418.1L90.7 391.9L139.7 370.0 M41.2 418.1L90.7 394.4L139.7 381.1 M41.2 418.1L90.7 402.1L139.7 395.4 M41.2 418.1L90.7 405.0L139.7 397.8 M41.2 418.1L90.7 399.3L139.7 388.8 M41.2 418.1L90.7 391.1L139.7 373.4 M41.2 418.1L90.7 397.4L139.7 383.6 M41.2 418.1L90.7 396.7L139.7 379.0 M41.2 418.1L90.7 390.2L139.7 380.8 M41.2 418.1L90.7 402.4L139.7 381.8 M41.2 418.1L90.7 399.8L139.7 373.6 M41.2 418.1L90.7 401.9L139.7 375.6 M41.2 418.1L90.7 392.0L139.7 368.8 M41.2 418.1L90.7 407.1L139.7 379.6 M41.2 418.1L90.7 394.2L139.7 382.0 M41.2 418.1L90.7 410.0L139.7 400.3 M41.2 418.1L90.7 412.0L139.7 384.9 M41.2 418.1L90.7 353.5L139.7 308.2" stroke="#4fa49b" stroke-width="0.55" fill="none" stroke-opacity="0.85" stroke-linejoin="round"/>
<path d="M41.2 418.1L90.7 389L139.7 379L139.7 403.2L90.7 412Z" fill="#5aa9a1" fill-opacity="0.95"/>
<path d="M41.2 418.1L90.7 361.3L139.7 344.0 M41.2 418.1L90.7 388.9L139.7 380.7" stroke="#e88a3a" stroke-width="0.8" fill="none" stroke-opacity="0.9" stroke-linejoin="round"/>
<path d="M41.2 418.1L90.7 378.7L139.7 333.7" stroke="#f07020" stroke-width="1.2" fill="none" stroke-opacity="1" stroke-linejoin="round"/>
<rect x="89.40" y="357.50" width="2.60" height="55.00" fill="#a3a3a3"/>
<rect x="138.40" y="321.50" width="2.60" height="82.00" fill="#a3a3a3"/>
<circle cx="90.70" cy="353.50" r="1.40" fill="#a0a0a0"/>
<circle cx="139.70" cy="308.20" r="1.40" fill="#a0a0a0"/>
<circle cx="139.70" cy="322.50" r="1.60" fill="#a0a0a0"/>
<circle cx="41.20" cy="418.10" r="1.40" fill="#a0a0a0"/>
<text x="38.7" y="325.0" font-size="8.5" fill="#ea8a2e">Highlight</text>
<line x1="38.70" y1="329.60" x2="76.30" y2="329.60" stroke="#ea8a2e" stroke-width="1.3"/>
<text x="38.7" y="341.3" font-size="8.5" fill="#ea8a2e" font-style="italic">Vimentin</text>
<text x="38.7" y="351.3" font-size="8.5" fill="#ea8a2e" font-style="italic">Nestin</text>
<text x="38.7" y="361.3" font-size="8.5" fill="#ea8a2e" font-style="italic">Sox4</text>
<text x="38.7" y="371.3" font-size="8.5" fill="#ea8a2e" font-style="italic">Olig1</text>
<line x1="35.40" y1="395.70" x2="35.40" y2="416.00" stroke="#111" stroke-width="1.0"/>
<text transform="translate(32.4,401.5) rotate(-90)" text-anchor="middle" font-size="7" fill="#111">ΔLog<tspan font-size="4.5" dy="1">2</tspan><tspan dy="-1">FC=1</tspan></text>
<text x="41.5" y="426.6" font-size="8.4" fill="#111" text-anchor="middle">control</text>
<text x="90.8" y="422.2" font-size="8.7" fill="#111" text-anchor="middle">Ngn2+shNC</text>
<text x="143.5" y="413.4" font-size="8.7" fill="#111" text-anchor="middle">Ngn2+shOlig2</text>
<path d="M188.7 318.0L250.7 345.1L313.0 341.3 M188.7 318.0L250.7 326.0L313.0 373.9 M188.7 318.0L250.7 329.3L313.0 340.6 M188.7 318.0L250.7 338.9L313.0 349.1 M188.7 318.0L250.7 343.7L313.0 344.8 M188.7 318.0L250.7 345.2L313.0 348.1 M188.7 318.0L250.7 337.8L313.0 371.4 M188.7 318.0L250.7 339.5L313.0 371.1 M188.7 318.0L250.7 340.0L313.0 337.8 M188.7 318.0L250.7 343.6L313.0 358.4 M188.7 318.0L250.7 331.9L313.0 343.2 M188.7 318.0L250.7 342.9L313.0 358.1 M188.7 318.0L250.7 344.7L313.0 365.4 M188.7 318.0L250.7 345.2L313.0 357.5 M188.7 318.0L250.7 339.8L313.0 359.3 M188.7 318.0L250.7 330.8L313.0 372.4 M188.7 318.0L250.7 331.9L313.0 365.7 M188.7 318.0L250.7 345.1L313.0 360.7 M188.7 318.0L250.7 328.4L313.0 367.4 M188.7 318.0L250.7 339.2L313.0 343.0 M188.7 318.0L250.7 326.5L313.0 356.2 M188.7 318.0L250.7 326.2L313.0 371.2 M188.7 318.0L250.7 335.9L313.0 355.7 M188.7 318.0L250.7 333.9L313.0 361.1 M188.7 318.0L250.7 344.3L313.0 347.7 M188.7 318.0L250.7 333.2L313.0 358.1 M188.7 318.0L250.7 331.6L313.0 358.6 M188.7 318.0L250.7 336.6L313.0 352.5 M188.7 318.0L250.7 339.3L313.0 356.1 M188.7 318.0L250.7 327.3L313.0 373.9 M188.7 318.0L250.7 332.8L313.0 352.4 M188.7 318.0L250.7 333.8L313.0 371.3 M188.7 318.0L250.7 345.0L313.0 355.5 M188.7 318.0L250.7 333.7L313.0 339.7 M188.7 318.0L250.7 343.9L313.0 342.5 M188.7 318.0L250.7 336.7L313.0 349.3 M188.7 318.0L250.7 332.2L313.0 349.6 M188.7 318.0L250.7 329.4L313.0 337.4 M188.7 318.0L250.7 336.5L313.0 366.2 M188.7 318.0L250.7 338.8L313.0 343.7 M188.7 318.0L250.7 339.7L313.0 338.0 M188.7 318.0L250.7 333.9L313.0 367.5 M188.7 318.0L250.7 344.4L313.0 353.5 M188.7 318.0L250.7 342.9L313.0 354.9 M188.7 318.0L250.7 336.2L313.0 358.2 M188.7 318.0L250.7 345.8L313.0 364.3 M188.7 318.0L250.7 335.2L313.0 363.6 M188.7 318.0L250.7 338.7L313.0 349.4 M188.7 318.0L250.7 355.3L313.0 389.9 M188.7 318.0L250.7 351.4L313.0 392.3 M188.7 318.0L250.7 338.4L313.0 383.7 M188.7 318.0L250.7 352.0L313.0 380.6 M188.7 318.0L250.7 341.8L313.0 387.4 M188.7 318.0L250.7 347.6L313.0 379.2 M188.7 318.0L250.7 338.9L313.0 392.8 M188.7 318.0L250.7 345.8L313.0 376.3 M188.7 318.0L250.7 342.8L313.0 378.9 M188.7 318.0L250.7 357.1L313.0 377.5 M188.7 318.0L250.7 344.1L313.0 375.9 M188.7 318.0L250.7 348.3L313.0 378.0 M188.7 318.0L250.7 345.6L313.0 388.3 M188.7 318.0L250.7 358.4L313.0 390.2 M188.7 318.0L250.7 338.8L313.0 381.3 M188.7 318.0L250.7 356.7L313.0 374.6 M188.7 318.0L250.7 333.0L313.0 412.0 M188.7 318.0L250.7 360.9L313.0 390.0" stroke="#8a4412" stroke-width="0.7" fill="none" stroke-opacity="1" stroke-linejoin="round"/>
<path d="M188.7 318.0L250.7 331.0L313.0 346.0 M188.7 318.0L250.7 335.0L313.0 352.0 M188.7 318.0L250.7 337.0L313.0 368.0 M188.7 318.0L250.7 341.0L313.0 374.0" stroke="#f07d1a" stroke-width="0.9" fill="none" stroke-opacity="1" stroke-linejoin="round"/>
<rect x="249.50" y="324.40" width="2.40" height="31.60" fill="#a3a3a3"/>
<circle cx="250.70" cy="360.90" r="1.30" fill="#a0a0a0"/>
<rect x="311.80" y="345.00" width="2.40" height="32.00" fill="#a3a3a3"/>
<circle cx="313.00" cy="335.40" r="1.30" fill="#a0a0a0"/>
<circle cx="313.00" cy="340.00" r="1.30" fill="#a0a0a0"/>
<circle cx="313.00" cy="380.50" r="1.30" fill="#a0a0a0"/>
<circle cx="313.00" cy="384.00" r="1.30" fill="#a0a0a0"/>
<circle cx="313.00" cy="387.50" r="1.30" fill="#a0a0a0"/>
<circle cx="313.00" cy="393.40" r="1.30" fill="#a0a0a0"/>
<circle cx="313.00" cy="412.00" r="1.30" fill="#a0a0a0"/>
<circle cx="188.70" cy="318.00" r="1.30" fill="#a0a0a0"/>
<text x="191.2" y="351.7" font-size="8.5" fill="#ea8a2e">Highlight</text>
<line x1="191.20" y1="356.80" x2="223.70" y2="356.80" stroke="#ea8a2e" stroke-width="1.3"/>
<text x="191.2" y="366.5" font-size="8.5" fill="#ea8a2e" font-style="italic">Aldoc</text>
<text x="191.2" y="376.6" font-size="8.5" fill="#ea8a2e" font-style="italic">Gjb1</text>
<text x="191.2" y="386.6" font-size="8.5" fill="#ea8a2e" font-style="italic">Gjb6</text>
<text x="191.2" y="396.7" font-size="8.5" fill="#ea8a2e" font-style="italic">Glul</text>
<line x1="184.60" y1="319.30" x2="184.60" y2="338.40" stroke="#111" stroke-width="1.0"/>
<text transform="translate(181.2,333.0) rotate(-90)" text-anchor="middle" font-size="7" fill="#111">ΔLog<tspan font-size="4.5" dy="1">2</tspan><tspan dy="-1">FC=1</tspan></text>
<text x="190.0" y="309.8" font-size="8.4" fill="#111" text-anchor="middle">control</text>
<text x="251.1" y="317.5" font-size="8.7" fill="#111" text-anchor="middle">Ngn2+shNC</text>
<text x="314.3" y="327.7" font-size="8.7" fill="#111" text-anchor="middle">Ngn2+shOlig2</text>
<path d="M369.1 364.3L426.2 347.7L482.3 393.5 M369.1 364.3L426.2 354.9L482.3 391.0 M369.1 364.3L426.2 347.3L482.3 384.5 M369.1 364.3L426.2 342.5L482.3 403.2 M369.1 364.3L426.2 338.7L482.3 344.3 M369.1 364.3L426.2 350.6L482.3 379.2 M369.1 364.3L426.2 326.5L482.3 389.2 M369.1 364.3L426.2 357.4L482.3 351.4 M369.1 364.3L426.2 328.9L482.3 356.2 M369.1 364.3L426.2 337.6L482.3 365.1 M369.1 364.3L426.2 341.0L482.3 346.8 M369.1 364.3L426.2 354.4L482.3 401.1 M369.1 364.3L426.2 334.2L482.3 355.9 M369.1 364.3L426.2 337.7L482.3 350.5 M369.1 364.3L426.2 342.8L482.3 357.8 M369.1 364.3L426.2 352.0L482.3 345.1 M369.1 364.3L426.2 340.6L482.3 389.0 M369.1 364.3L426.2 319.9L482.3 361.5 M369.1 364.3L426.2 354.9L482.3 390.4 M369.1 364.3L426.2 347.1L482.3 345.8 M369.1 364.3L426.2 350.4L482.3 360.6 M369.1 364.3L426.2 337.3L482.3 412.0 M369.1 364.3L426.2 330.6L482.3 377.3 M369.1 364.3L426.2 333.0L482.3 373.3 M369.1 364.3L426.2 338.0L482.3 375.5 M369.1 364.3L426.2 329.9L482.3 377.6 M369.1 364.3L426.2 330.4L482.3 401.8 M369.1 364.3L426.2 353.8L482.3 373.7 M369.1 364.3L426.2 332.6L482.3 367.7 M369.1 364.3L426.2 335.6L482.3 383.8 M369.1 364.3L426.2 355.9L482.3 401.5 M369.1 364.3L426.2 328.1L482.3 383.3 M369.1 364.3L426.2 355.7L482.3 389.7 M369.1 364.3L426.2 330.6L482.3 407.4 M369.1 364.3L426.2 333.2L482.3 377.2 M369.1 364.3L426.2 354.3L482.3 406.4 M369.1 364.3L426.2 319.9L482.3 379.9 M369.1 364.3L426.2 339.2L482.3 356.6 M369.1 364.3L426.2 343.9L482.3 350.9 M369.1 364.3L426.2 335.7L482.3 346.4 M369.1 364.3L426.2 333.6L482.3 400.7 M369.1 364.3L426.2 347.9L482.3 343.0 M369.1 364.3L426.2 339.4L482.3 353.1 M369.1 364.3L426.2 353.3L482.3 361.8 M369.1 364.3L426.2 337.9L482.3 392.1 M369.1 364.3L426.2 334.5L482.3 395.3 M369.1 364.3L426.2 357.2L482.3 384.1 M369.1 364.3L426.2 352.7L482.3 352.5 M369.1 364.3L426.2 344.4L482.3 396.4 M369.1 364.3L426.2 320.7L482.3 350.3 M369.1 364.3L426.2 354.7L482.3 377.8 M369.1 364.3L426.2 350.4L482.3 402.9 M369.1 364.3L426.2 348.7L482.3 407.6 M369.1 364.3L426.2 341.2L482.3 375.8 M369.1 364.3L426.2 336.1L482.3 349.2 M369.1 364.3L426.2 343.3L482.3 360.7 M369.1 364.3L426.2 332.7L482.3 365.0 M369.1 364.3L426.2 331.0L482.3 346.0 M369.1 364.3L426.2 331.9L482.3 400.3 M369.1 364.3L426.2 346.4L482.3 412.8 M369.1 364.3L426.2 344.2L482.3 365.8 M369.1 364.3L426.2 337.9L482.3 382.3 M369.1 364.3L426.2 337.1L482.3 379.8 M369.1 364.3L426.2 353.2L482.3 409.6 M369.1 364.3L426.2 322.1L482.3 378.2 M369.1 364.3L426.2 346.8L482.3 411.2 M369.1 364.3L426.2 333.3L482.3 355.9 M369.1 364.3L426.2 337.9L482.3 403.6 M369.1 364.3L426.2 353.2L482.3 370.6 M369.1 364.3L426.2 338.1L482.3 376.7 M369.1 364.3L426.2 320.1L482.3 387.7 M369.1 364.3L426.2 338.9L482.3 397.7 M369.1 364.3L426.2 340.0L482.3 352.7 M369.1 364.3L426.2 330.4L482.3 374.5 M369.1 364.3L426.2 337.3L482.3 388.1 M369.1 364.3L426.2 339.3L482.3 384.3 M369.1 364.3L426.2 333.7L482.3 377.6 M369.1 364.3L426.2 338.4L482.3 356.3 M369.1 364.3L426.2 338.7L482.3 344.8 M369.1 364.3L426.2 346.3L482.3 380.2 M369.1 364.3L426.2 327.8L482.3 349.3 M369.1 364.3L426.2 338.1L482.3 365.4 M369.1 364.3L426.2 347.9L482.3 386.3 M369.1 364.3L426.2 335.4L482.3 373.8 M369.1 364.3L426.2 323.6L482.3 395.4 M369.1 364.3L426.2 321.8L482.3 345.6 M369.1 364.3L426.2 350.8L482.3 406.7 M369.1 364.3L426.2 341.2L482.3 370.5 M369.1 364.3L426.2 350.0L482.3 411.3 M369.1 364.3L426.2 354.5L482.3 396.3 M369.1 364.3L426.2 324.2L482.3 409.7 M369.1 364.3L426.2 330.9L482.3 399.5 M369.1 364.3L426.2 347.9L482.3 395.7 M369.1 364.3L426.2 351.2L482.3 391.6 M369.1 364.3L426.2 333.1L482.3 378.6 M369.1 364.3L426.2 352.2L482.3 351.2 M369.1 364.3L426.2 351.2L482.3 372.3 M369.1 364.3L426.2 340.6L482.3 342.1 M369.1 364.3L426.2 339.8L482.3 350.7 M369.1 364.3L426.2 357.7L482.3 360.1 M369.1 364.3L426.2 350.0L482.3 401.1 M369.1 364.3L426.2 332.7L482.3 359.3 M369.1 364.3L426.2 340.2L482.3 392.0 M369.1 364.3L426.2 339.4L482.3 343.0 M369.1 364.3L426.2 326.4L482.3 365.4 M369.1 364.3L426.2 343.5L482.3 412.4 M369.1 364.3L426.2 351.9L482.3 345.5 M369.1 364.3L426.2 352.7L482.3 405.5 M369.1 364.3L426.2 324.4L482.3 408.1 M369.1 364.3L426.2 330.4L482.3 395.2 M369.1 364.3L426.2 347.3L482.3 355.6 M369.1 364.3L426.2 335.8L482.3 370.7 M369.1 364.3L426.2 331.6L482.3 411.5 M369.1 364.3L426.2 349.2L482.3 351.7 M369.1 364.3L426.2 348.0L482.3 378.2 M369.1 364.3L426.2 351.1L482.3 401.8 M369.1 364.3L426.2 334.6L482.3 408.2 M369.1 364.3L426.2 356.7L482.3 396.9 M369.1 364.3L426.2 341.9L482.3 410.0 M369.1 364.3L426.2 345.0L482.3 425.2" stroke="#9c9cf0" stroke-width="0.55" fill="none" stroke-opacity="0.9" stroke-linejoin="round"/>
<path d="M369.1 364.3L426.2 334L426.2 358Z" fill="#a3a3ef" fill-opacity="0.85"/>
<path d="M369.1 364.3L426.2 338.0L482.3 357.5" stroke="#f07d28" stroke-width="1.1" fill="none" stroke-opacity="1" stroke-linejoin="round"/>
<path d="M369.1 364.3L426.2 350.0L482.3 371.0 M369.1 364.3L426.2 356.0L482.3 403.0 M369.1 364.3L426.2 345.0L482.3 366.0" stroke="#f08a40" stroke-width="0.8" fill="none" stroke-opacity="0.75" stroke-linejoin="round"/>
<circle cx="426.20" cy="319.70" r="1.30" fill="#a0a0a0"/>
<circle cx="426.20" cy="322.50" r="1.30" fill="#a0a0a0"/>
<circle cx="426.20" cy="325.00" r="1.30" fill="#a0a0a0"/>
<rect x="424.90" y="328.00" width="2.60" height="30.00" fill="#a3a3a3"/>
<rect x="481.00" y="349.00" width="2.60" height="64.00" fill="#a3a3a3"/>
<circle cx="482.30" cy="342.10" r="1.30" fill="#a0a0a0"/>
<circle cx="482.30" cy="346.00" r="1.30" fill="#a0a0a0"/>
<circle cx="482.30" cy="425.20" r="1.30" fill="#a0a0a0"/>
<circle cx="369.10" cy="364.30" r="1.30" fill="#a0a0a0"/>
<text x="394.4" y="381.4" font-size="8.5" fill="#ea8a2e">Highlight</text>
<line x1="394.40" y1="387.20" x2="426.40" y2="387.20" stroke="#ea8a2e" stroke-width="1.3"/>
<text x="394.4" y="396.8" font-size="8.5" fill="#ea8a2e" font-style="italic">Apoe</text>
<text x="394.4" y="406.9" font-size="8.5" fill="#ea8a2e" font-style="italic">S100β</text>
<text x="394.4" y="417.1" font-size="8.5" fill="#ea8a2e" font-style="italic">Hes5</text>
<text x="394.4" y="427.2" font-size="8.5" fill="#ea8a2e" font-style="italic">Caspase3</text>
<line x1="365.50" y1="343.40" x2="365.50" y2="363.10" stroke="#111" stroke-width="1.0"/>
<text transform="translate(362.0,348.0) rotate(-90)" text-anchor="middle" font-size="7" fill="#111">ΔLog<tspan font-size="4.5" dy="1">2</tspan><tspan dy="-1">FC=1</tspan></text>
<text x="370.6" y="373.5" font-size="8.4" fill="#111" text-anchor="middle">control</text>
<text x="426.9" y="314.5" font-size="8.7" fill="#111" text-anchor="middle">Ngn2+shNC</text>
<text x="486.0" y="434.9" font-size="8.7" fill="#111" text-anchor="middle">Ngn2+shOlig2</text>
<path d="M525.3 369.7L587.9 379.9L651.3 361.0 M525.3 369.7L587.9 381.0L651.3 364.1 M525.3 369.7L587.9 383.3L651.3 365.9 M525.3 369.7L587.9 388.4L651.3 379.4 M525.3 369.7L587.9 389.5L651.3 374.3 M525.3 369.7L587.9 401.6L651.3 389.6 M525.3 369.7L587.9 400.5L651.3 389.0" stroke="#7f9a2a" stroke-width="1.0" fill="none" stroke-opacity="1" stroke-linejoin="round"/>
<path d="M525.6 370.5L587.9 381.1L651.3 362.2 M525.6 370.5L587.9 382.2L651.3 365.3 M525.6 370.5L587.9 384.5L651.3 367.1 M525.6 370.5L587.9 389.6L651.3 380.6 M525.6 370.5L587.9 390.7L651.3 375.5" stroke="#dde6b8" stroke-width="0.5" fill="none" stroke-opacity="1" stroke-linejoin="round"/>
<path d="M525.3 369.7L587.9 379.9L651.3 334.7 M525.3 369.7L587.9 383.3L651.3 365.9 M525.3 369.7L587.9 383.8L651.3 374.3 M525.3 369.7L587.9 401.6L651.3 390.4" stroke="#f07d28" stroke-width="1.3" fill="none" stroke-opacity="1" stroke-linejoin="round"/>
<circle cx="587.90" cy="379.90" r="1.60" fill="#a0a0a0"/>
<circle cx="587.90" cy="383.30" r="1.60" fill="#a0a0a0"/>
<circle cx="587.90" cy="388.40" r="1.60" fill="#a0a0a0"/>
<circle cx="587.90" cy="401.60" r="1.60" fill="#a0a0a0"/>
<circle cx="651.30" cy="334.70" r="1.50" fill="#a0a0a0"/>
<circle cx="651.30" cy="361.00" r="1.50" fill="#a0a0a0"/>
<circle cx="651.30" cy="363.50" r="1.50" fill="#a0a0a0"/>
<circle cx="651.30" cy="365.90" r="1.50" fill="#a0a0a0"/>
<circle cx="651.30" cy="374.30" r="1.50" fill="#a0a0a0"/>
<circle cx="651.30" cy="379.40" r="1.50" fill="#a0a0a0"/>
<circle cx="651.30" cy="389.60" r="1.50" fill="#a0a0a0"/>
<circle cx="525.30" cy="369.70" r="1.40" fill="#a0a0a0"/>
<text x="540.1" y="310.4" font-size="8.5" fill="#ea8a2e">Highlight</text>
<line x1="540.10" y1="315.50" x2="572.60" y2="315.50" stroke="#ea8a2e" stroke-width="1.3"/>
<text x="540.1" y="324.5" font-size="8.5" fill="#ea8a2e" font-style="italic">App</text>
<text x="540.1" y="334.5" font-size="8.5" fill="#ea8a2e" font-style="italic">Atad1</text>
<text x="540.1" y="344.4" font-size="8.5" fill="#ea8a2e" font-style="italic">Slc1a3</text>
<text x="540.1" y="354.4" font-size="8.5" fill="#ea8a2e" font-style="italic">Slco1c1</text>
<line x1="519.70" y1="369.70" x2="519.70" y2="407.50" stroke="#111" stroke-width="1.0"/>
<text transform="translate(516.6,387.7) rotate(-90)" text-anchor="middle" font-size="7" fill="#111">ΔLog<tspan font-size="4.5" dy="1">2</tspan><tspan dy="-1">FC=0.5</tspan></text>
<text x="526.6" y="364.1" font-size="8.4" fill="#111" text-anchor="middle">control</text>
<text x="589.0" y="412.1" font-size="8.7" fill="#111" text-anchor="middle">Ngn2+shNC</text>
<text x="653.0" y="328.3" font-size="8.7" fill="#111" text-anchor="middle">Ngn2+shOlig2</text>
<text transform="translate(0.20 462.80) scale(0.95 1)" font-size="22" font-weight="bold" fill="#000">e</text>
<text x="118.3" y="462.7" font-size="12" fill="#111" text-anchor="middle">Pattern 1 - up-up</text>
<path d="M110.1 477.8C107.1 529.1 141.2 556.4 189.1 541.2 M110.1 477.8C106.8 533.5 138.1 561.8 191.6 551.8 M110.1 477.8C106.6 537.7 134.5 566.2 192.9 562.6 M110.1 477.8C106.4 541.6 130.6 569.6 192.9 573.5 M110.1 477.8C106.1 545.4 126.6 572.1 191.6 584.3 M110.1 477.8C105.9 548.8 122.7 573.8 189.1 594.9 M110.1 477.8C105.7 552.1 119.0 574.6 185.3 605.2 M110.1 477.8C105.6 555.0 115.7 574.8 180.3 614.8 M110.1 477.8C105.4 557.7 112.8 574.4 174.3 623.8 M110.1 477.8C105.3 560.1 110.3 573.7 167.2 632.0 M110.1 477.8C105.1 562.2 108.3 572.7 159.2 639.2 M110.1 477.8C105.0 564.0 106.9 571.6 150.5 645.4 M110.1 477.8C105.0 565.4 105.9 570.4 141.0 650.5 M110.1 477.8C104.9 566.6 105.2 569.5 131.1 654.4 M110.1 477.8C104.8 567.4 104.9 568.7 120.7 657.0" stroke="#F8766D" stroke-width="0.7" fill="none" stroke-opacity="0.85"/>
<path d="M120.7 479.1C112.5 525.1 145.5 555.1 189.1 541.2 M120.7 479.1C108.2 549.1 121.9 575.9 185.3 605.2 M120.7 479.1C105.5 564.0 106.4 571.8 141.0 650.5 M120.7 479.1C105.3 565.5 105.6 570.6 131.1 654.4 M120.7 479.1C105.1 566.6 105.1 569.5 120.7 657.0 M120.7 479.1C104.9 567.4 104.8 568.7 110.1 658.3 M120.7 479.1C104.8 567.9 104.8 568.2 99.5 658.3 M120.7 479.1C104.8 567.9 104.8 568.2 78.5 654.4" stroke="#00B0F6" stroke-width="0.7" fill="none" stroke-opacity="0.85"/>
<path d="M131.1 481.7C118.9 521.9 149.9 553.7 189.1 541.2 M131.1 481.7C111.4 546.3 125.0 577.4 185.3 605.2 M131.1 481.7C106.5 562.4 107.2 573.4 141.0 650.5 M131.1 481.7C106.0 564.1 106.0 572.0 131.1 654.4 M131.1 481.7C105.6 565.5 105.3 570.6 120.7 657.0 M131.1 481.7C105.2 566.6 104.9 569.5 110.1 658.3 M131.1 481.7C105.0 567.4 104.8 568.7 99.5 658.3 M131.1 481.7C104.8 567.9 104.8 568.2 88.9 657.0 M131.1 481.7C104.8 568.0 104.8 568.0 78.5 654.4 M131.1 481.7C105.6 565.5 103.0 569.9 42.4 632.0" stroke="#9590FF" stroke-width="0.7" fill="none" stroke-opacity="0.85"/>
<path d="M141.0 485.6C126.2 519.4 154.5 552.2 189.1 541.2 M141.0 485.6C124.2 523.9 151.3 559.3 191.6 551.8 M141.0 485.6C115.4 543.9 128.4 578.9 185.3 605.2 M141.0 485.6C108.0 560.8 108.0 575.3 141.0 650.5 M141.0 485.6C107.2 562.7 106.5 573.7 131.1 654.4 M141.0 485.6C106.4 564.3 105.5 572.1 120.7 657.0 M141.0 485.6C105.9 565.7 105.0 570.7 110.1 658.3 M141.0 485.6C105.4 566.7 104.7 569.5 99.5 658.3 M141.0 485.6C105.1 567.4 104.7 568.7 88.9 657.0 M141.0 485.6C104.9 567.9 104.8 568.2 78.5 654.4 M141.0 485.6C104.8 568.0 104.8 568.0 68.6 650.5 M141.0 485.6C104.9 567.9 104.7 568.2 59.1 645.4 M141.0 485.6C105.1 567.4 104.4 568.6 50.4 639.2 M141.0 485.6C105.4 566.7 103.8 569.1 42.4 632.0 M141.0 485.6C105.9 565.7 102.8 569.7 35.3 623.8" stroke="#FF62BC" stroke-width="0.7" fill="none" stroke-opacity="0.85"/>
<path d="M150.5 490.7C106.1 565.8 102.6 569.4 29.3 614.8 M150.5 490.7C106.9 564.5 101.2 569.7 24.3 605.2 M150.5 490.7C107.8 563.0 99.3 569.8 20.5 594.9 M150.5 490.7C108.8 561.2 97.2 569.5 18.0 584.3 M150.5 490.7C110.0 559.2 94.7 568.7 16.7 573.5 M150.5 490.7C111.4 556.9 92.1 567.3 16.7 562.6" stroke="#D89000" stroke-width="0.7" fill="none" stroke-opacity="0.85"/>
<path d="M159.2 496.9C143.0 518.1 164.0 549.2 189.1 541.2 M159.2 496.9C139.9 522.1 160.8 557.5 191.6 551.8 M159.2 496.9C131.1 533.7 146.7 575.9 191.6 584.3 M159.2 496.9C125.7 540.8 135.6 582.3 185.3 605.2 M159.2 496.9C112.6 557.8 110.0 579.9 141.0 650.5 M159.2 496.9C111.0 559.9 107.8 577.9 131.1 654.4 M159.2 496.9C109.6 561.8 106.2 575.9 120.7 657.0 M159.2 496.9C108.3 563.4 105.1 573.9 110.1 658.3 M159.2 496.9C107.3 564.8 104.6 572.1 99.5 658.3 M159.2 496.9C106.4 566.0 104.3 570.6 88.9 657.0 M159.2 496.9C105.7 566.9 104.4 569.5 78.5 654.4 M159.2 496.9C105.2 567.5 104.5 568.7 68.6 650.5 M159.2 496.9C104.9 567.9 104.7 568.2 59.1 645.4 M159.2 496.9C104.8 568.0 104.8 568.0 50.4 639.2 M159.2 496.9C104.9 567.9 104.7 568.2 42.4 632.0 M159.2 496.9C105.2 567.5 104.3 568.5 35.3 623.8 M159.2 496.9C112.6 557.8 92.3 565.7 18.0 551.8" stroke="#00BFC4" stroke-width="0.7" fill="none" stroke-opacity="0.85"/>
<path d="M167.2 504.1C152.3 519.4 168.9 547.6 189.1 541.2 M167.2 504.1C148.6 523.1 165.8 556.6 191.6 551.8 M167.2 504.1C138.2 533.8 151.3 576.8 191.6 584.3 M167.2 504.1C115.8 556.7 111.2 582.6 141.0 650.5 M167.2 504.1C113.8 558.8 108.6 580.5 131.1 654.4 M167.2 504.1C111.9 560.7 106.6 578.2 120.7 657.0 M167.2 504.1C108.9 563.9 104.5 573.9 99.5 658.3 M167.2 504.1C107.6 565.2 104.1 572.1 88.9 657.0" stroke="#E76BF3" stroke-width="0.7" fill="none" stroke-opacity="0.85"/>
<path d="M174.3 512.3C149.6 532.1 161.7 571.6 192.9 573.5 M174.3 512.3C145.8 535.2 156.0 577.7 191.6 584.3 M174.3 512.3C131.4 546.7 131.4 589.4 174.3 623.8 M174.3 512.3C110.9 563.1 104.3 576.0 99.5 658.3 M174.3 512.3C109.3 564.4 103.8 573.8 88.9 657.0 M174.3 512.3C112.8 561.7 95.1 565.0 20.5 541.2 M174.3 512.3C114.8 560.0 93.2 562.7 24.3 530.9 M174.3 512.3C117.1 558.2 91.4 559.8 29.3 521.3 M174.3 512.3C119.6 556.2 90.0 556.2 35.3 512.3 M174.3 512.3C122.3 554.0 89.1 552.0 42.4 504.1 M174.3 512.3C125.1 551.7 88.9 547.2 50.4 496.9 M174.3 512.3C128.2 549.3 89.4 542.0 59.1 490.7 M174.3 512.3C131.4 546.7 90.9 536.5 68.6 485.6 M174.3 512.3C134.8 544.0 93.5 530.8 78.5 481.7 M174.3 512.3C138.3 541.1 97.1 525.1 88.9 479.1 M174.3 512.3C142.0 538.2 101.9 519.7 99.5 477.8" stroke="#39B600" stroke-width="0.7" fill="none" stroke-opacity="0.85"/>
<path d="M180.3 521.3C157.9 535.2 166.7 571.9 192.9 573.5 M180.3 521.3C137.4 547.8 134.8 592.1 174.3 623.8 M180.3 521.3C111.5 563.9 103.4 575.9 88.9 657.0 M180.3 521.3C106.0 567.3 103.9 569.2 50.4 639.2 M180.3 521.3C108.2 565.9 100.8 567.8 16.7 562.6 M180.3 521.3C111.5 563.9 97.4 565.7 20.5 541.2 M180.3 521.3C113.5 562.7 95.6 563.8 24.3 530.9 M180.3 521.3C115.7 561.3 93.9 561.3 29.3 521.3 M180.3 521.3C118.2 559.8 92.5 558.2 35.3 512.3 M180.3 521.3C120.9 558.1 91.5 554.4 42.4 504.1 M180.3 521.3C123.8 556.3 91.1 550.2 50.4 496.9 M180.3 521.3C126.9 554.4 91.4 545.4 59.1 490.7 M180.3 521.3C130.2 552.3 92.6 540.3 68.6 485.6 M180.3 521.3C133.7 550.1 94.7 535.0 78.5 481.7 M180.3 521.3C137.4 547.8 97.9 529.6 88.9 479.1 M180.3 521.3C141.3 545.5 102.2 524.5 99.5 477.8" stroke="#A3A500" stroke-width="0.7" fill="none" stroke-opacity="0.85"/>
<path d="M185.3 530.9C180.4 533.2 184.0 542.8 189.1 541.2 M185.3 530.9C175.6 535.4 181.1 553.7 191.6 551.8 M185.3 530.9C166.0 539.8 171.8 572.2 192.9 573.5 M185.3 530.9C161.3 542.0 165.8 579.5 191.6 584.3 M185.3 530.9C156.7 544.1 159.2 585.4 189.1 594.9 M185.3 530.9C128.4 557.2 115.4 592.2 141.0 650.5 M185.3 530.9C125.0 558.7 111.4 589.8 131.1 654.4 M185.3 530.9C121.9 560.2 108.2 587.0 120.7 657.0 M185.3 530.9C114.0 563.8 103.0 578.2 88.9 657.0 M185.3 530.9C107.1 567.0 103.2 570.1 50.4 639.2 M185.3 530.9C108.4 566.4 100.9 567.3 18.0 551.8" stroke="#00BF7D" stroke-width="0.7" fill="none" stroke-opacity="0.85"/>
<circle cx="110.1" cy="477.8" r="2.8" fill="#d8c08f"/>
<circle cx="120.7" cy="479.1" r="1.9" fill="#d8c08f"/>
<circle cx="131.1" cy="481.7" r="2.1" fill="#d8c08f"/>
<circle cx="141.0" cy="485.6" r="2.8" fill="#d8c08f"/>
<circle cx="150.5" cy="490.7" r="1.7" fill="#d8c08f"/>
<circle cx="159.2" cy="496.9" r="2.9" fill="#d8c08f"/>
<circle cx="167.2" cy="504.1" r="1.9" fill="#d8c08f"/>
<circle cx="174.3" cy="512.3" r="2.8" fill="#d8c08f"/>
<circle cx="180.3" cy="521.3" r="2.9" fill="#d8c08f"/>
<circle cx="185.3" cy="530.9" r="2.3" fill="#d8c08f"/>
<text x="103.9" y="473.3" font-size="6.4" fill="#333333" textLength="60.4" lengthAdjust="spacingAndGlyphs">cytoplasmic translation</text>
<text x="122.5" y="477.5" font-size="6.4" fill="#333333" textLength="90.7" lengthAdjust="spacingAndGlyphs">ribosomal small subunit assembly</text>
<text x="133.8" y="483.0" font-size="6.4" fill="#333333" textLength="93.9" lengthAdjust="spacingAndGlyphs">ribosomal small subunit biogenesis</text>
<text x="144.0" y="487.8" font-size="6.4" fill="#333333" textLength="47.0" lengthAdjust="spacingAndGlyphs">ribosome biogenesis</text>
<text x="120.9" y="493.9" font-size="6.4" fill="#333333" textLength="163.3" lengthAdjust="spacingAndGlyphs">proteasomal ubiquitin−independent protein catabolic process</text>
<text x="138.0" y="501.9" font-size="6.4" fill="#333333" textLength="101.2" lengthAdjust="spacingAndGlyphs">ribonucleoprotein complex biogenesis</text>
<text x="151.4" y="509.6" font-size="6.4" fill="#333333" textLength="50.9" lengthAdjust="spacingAndGlyphs">ribosome assembly</text>
<text x="179.4" y="515.8" font-size="6.4" fill="#333333" textLength="62.7" lengthAdjust="spacingAndGlyphs">regulation of translation</text>
<text x="134.7" y="528.3" font-size="6.4" fill="#333333" textLength="122.9" lengthAdjust="spacingAndGlyphs">regulation of cellular amide metabolic process</text>
<text x="149.8" y="537.6" font-size="6.4" fill="#333333" textLength="97.5" lengthAdjust="spacingAndGlyphs">ribonucleoprotein complex assembly</text>
<circle cx="189.1" cy="541.2" r="1.5" fill="#ff1a1a"/>
<text x="184.0" y="547.5" font-size="6.2" font-style="italic" fill="#000" textLength="13.3" lengthAdjust="spacingAndGlyphs">Rpsa</text>
<circle cx="191.6" cy="551.8" r="1.5" fill="#ff1a1a"/>
<text x="184.8" y="558.0" font-size="6.2" font-style="italic" fill="#000" textLength="15.1" lengthAdjust="spacingAndGlyphs">Rplp0</text>
<circle cx="192.9" cy="562.6" r="1.5" fill="#ff1a1a"/>
<text x="187.7" y="568.8" font-size="6.2" font-style="italic" fill="#000" textLength="11.8" lengthAdjust="spacingAndGlyphs">Rpl8</text>
<circle cx="192.9" cy="573.5" r="1.5" fill="#ff1a1a"/>
<text x="186.8" y="580.1" font-size="6.2" font-style="italic" fill="#000" textLength="13.1" lengthAdjust="spacingAndGlyphs">Eif3a</text>
<circle cx="191.6" cy="584.3" r="1.5" fill="#ff1a1a"/>
<text x="185.4" y="590.6" font-size="6.2" font-style="italic" fill="#000" textLength="15.8" lengthAdjust="spacingAndGlyphs">Rpl22</text>
<circle cx="189.1" cy="594.9" r="1.5" fill="#ff1a1a"/>
<text x="180.7" y="600.8" font-size="6.2" font-style="italic" fill="#000" textLength="17.7" lengthAdjust="spacingAndGlyphs">Rps23</text>
<circle cx="185.3" cy="605.2" r="1.5" fill="#ff1a1a"/>
<text x="178.8" y="611.0" font-size="6.2" font-style="italic" fill="#000" textLength="14.0" lengthAdjust="spacingAndGlyphs">Rps2</text>
<circle cx="180.3" cy="614.8" r="1.5" fill="#ff1a1a"/>
<text x="173.0" y="621.2" font-size="6.2" font-style="italic" fill="#000" textLength="19.5" lengthAdjust="spacingAndGlyphs">Rpl18a</text>
<circle cx="174.3" cy="623.8" r="1.5" fill="#ff1a1a"/>
<text x="168.2" y="629.7" font-size="6.2" font-style="italic" fill="#000" textLength="16.9" lengthAdjust="spacingAndGlyphs">Eif4e2</text>
<circle cx="167.2" cy="632.0" r="1.5" fill="#ff1a1a"/>
<text x="161.8" y="637.8" font-size="6.2" font-style="italic" fill="#000" textLength="15.7" lengthAdjust="spacingAndGlyphs">Rpl29</text>
<circle cx="159.2" cy="639.2" r="1.5" fill="#ff1a1a"/>
<text x="153.0" y="644.7" font-size="6.2" font-style="italic" fill="#000" textLength="17.3" lengthAdjust="spacingAndGlyphs">Rps26</text>
<circle cx="150.5" cy="645.4" r="1.5" fill="#ff1a1a"/>
<text x="145.4" y="650.6" font-size="6.2" font-style="italic" fill="#000" textLength="14.5" lengthAdjust="spacingAndGlyphs">Tma7</text>
<circle cx="141.0" cy="650.5" r="1.5" fill="#ff1a1a"/>
<text x="134.2" y="656.7" font-size="6.2" font-style="italic" fill="#000" textLength="17.3" lengthAdjust="spacingAndGlyphs">Rps14</text>
<circle cx="131.1" cy="654.4" r="1.5" fill="#ff1a1a"/>
<text x="122.9" y="650.6" font-size="6.2" font-style="italic" fill="#000" textLength="16.9" lengthAdjust="spacingAndGlyphs">Rps19</text>
<circle cx="120.7" cy="657.0" r="1.5" fill="#ff1a1a"/>
<text x="114.9" y="661.9" font-size="6.2" font-style="italic" fill="#000" textLength="13.6" lengthAdjust="spacingAndGlyphs">Rps5</text>
<circle cx="110.1" cy="658.3" r="1.5" fill="#ff1a1a"/>
<text x="102.0" y="654.3" font-size="6.2" font-style="italic" fill="#000" textLength="17.7" lengthAdjust="spacingAndGlyphs">Rps25</text>
<circle cx="99.5" cy="658.3" r="1.5" fill="#ff1a1a"/>
<text x="90.8" y="663.5" font-size="6.2" font-style="italic" fill="#000" textLength="18.2" lengthAdjust="spacingAndGlyphs">Rps27l</text>
<circle cx="88.9" cy="657.0" r="1.5" fill="#ff1a1a"/>
<text x="82.7" y="652.7" font-size="6.2" font-style="italic" fill="#000" textLength="15.3" lengthAdjust="spacingAndGlyphs">Npm1</text>
<circle cx="78.5" cy="654.4" r="1.5" fill="#ff1a1a"/>
<text x="69.4" y="660.6" font-size="6.2" font-style="italic" fill="#000" textLength="17.3" lengthAdjust="spacingAndGlyphs">Rps24</text>
<circle cx="68.6" cy="650.5" r="1.5" fill="#ff1a1a"/>
<text x="65.0" y="646.9" font-size="6.2" font-style="italic" fill="#000" textLength="12.9" lengthAdjust="spacingAndGlyphs">Rpl7</text>
<circle cx="59.1" cy="645.4" r="1.5" fill="#ff1a1a"/>
<text x="50.3" y="652.2" font-size="6.2" font-style="italic" fill="#000" textLength="15.5" lengthAdjust="spacingAndGlyphs">Rpl14</text>
<circle cx="50.4" cy="639.2" r="1.5" fill="#ff1a1a"/>
<text x="46.3" y="645.0" font-size="6.2" font-style="italic" fill="#000" textLength="9.1" lengthAdjust="spacingAndGlyphs">Ncl</text>
<circle cx="42.4" cy="632.0" r="1.5" fill="#ff1a1a"/>
<text x="32.9" y="637.0" font-size="6.2" font-style="italic" fill="#000" textLength="18.2" lengthAdjust="spacingAndGlyphs">Nop10</text>
<circle cx="35.3" cy="623.8" r="1.5" fill="#ff1a1a"/>
<text x="27.8" y="629.7" font-size="6.2" font-style="italic" fill="#000" textLength="16.4" lengthAdjust="spacingAndGlyphs">Rpl35</text>
<circle cx="29.3" cy="614.8" r="1.5" fill="#ff1a1a"/>
<text x="20.1" y="620.9" font-size="6.2" font-style="italic" fill="#000" textLength="18.9" lengthAdjust="spacingAndGlyphs">Psma2</text>
<circle cx="24.3" cy="605.2" r="1.5" fill="#ff1a1a"/>
<text x="15.7" y="611.0" font-size="6.2" font-style="italic" fill="#000" textLength="18.8" lengthAdjust="spacingAndGlyphs">Psmb1</text>
<circle cx="20.5" cy="594.9" r="1.5" fill="#ff1a1a"/>
<text x="12.4" y="600.5" font-size="6.2" font-style="italic" fill="#000" textLength="18.9" lengthAdjust="spacingAndGlyphs">Psmb4</text>
<circle cx="18.0" cy="584.3" r="1.5" fill="#ff1a1a"/>
<text x="9.9" y="589.9" font-size="6.2" font-style="italic" fill="#000" textLength="18.7" lengthAdjust="spacingAndGlyphs">Psma7</text>
<circle cx="16.7" cy="573.5" r="1.5" fill="#ff1a1a"/>
<text x="8.1" y="579.4" font-size="6.2" font-style="italic" fill="#000" textLength="18.8" lengthAdjust="spacingAndGlyphs">Psmb3</text>
<circle cx="16.7" cy="562.6" r="1.5" fill="#ff1a1a"/>
<text x="8.9" y="568.9" font-size="6.2" font-style="italic" fill="#000" textLength="17.1" lengthAdjust="spacingAndGlyphs">Nfe2l2</text>
<circle cx="18.0" cy="551.8" r="1.5" fill="#ff1a1a"/>
<text x="8.5" y="558.6" font-size="6.2" font-style="italic" fill="#000" textLength="19.4" lengthAdjust="spacingAndGlyphs">Snrpd2</text>
<circle cx="20.5" cy="541.2" r="1.5" fill="#ff1a1a"/>
<text x="6.6" y="549.2" font-size="8.2" font-style="italic" fill="#000" textLength="18.4" lengthAdjust="spacingAndGlyphs">Sox4</text>
<circle cx="24.3" cy="530.9" r="1.5" fill="#ff1a1a"/>
<text x="17.1" y="538.0" font-size="6.2" font-style="italic" fill="#000" textLength="11.8" lengthAdjust="spacingAndGlyphs">Btg2</text>
<circle cx="29.3" cy="521.3" r="1.5" fill="#ff1a1a"/>
<text x="19.1" y="528.8" font-size="8.2" font-style="italic" fill="#000" textLength="13.5" lengthAdjust="spacingAndGlyphs">Vim</text>
<circle cx="35.3" cy="512.3" r="1.5" fill="#ff1a1a"/>
<text x="22.1" y="518.5" font-size="6.2" font-style="italic" fill="#000" textLength="16.0" lengthAdjust="spacingAndGlyphs">Elavl4</text>
<circle cx="42.4" cy="504.1" r="1.5" fill="#ff1a1a"/>
<text x="30.0" y="510.7" font-size="6.2" font-style="italic" fill="#000" textLength="14.0" lengthAdjust="spacingAndGlyphs">Cdk4</text>
<circle cx="50.4" cy="496.9" r="1.5" fill="#ff1a1a"/>
<text x="31.3" y="500.2" font-size="6.2" font-style="italic" fill="#000" textLength="17.1" lengthAdjust="spacingAndGlyphs">Polr2g</text>
<circle cx="59.1" cy="490.7" r="1.5" fill="#ff1a1a"/>
<text x="41.0" y="493.2" font-size="6.2" font-style="italic" fill="#000" textLength="16.2" lengthAdjust="spacingAndGlyphs">Rack1</text>
<circle cx="68.6" cy="485.6" r="1.5" fill="#ff1a1a"/>
<text x="46.3" y="486.4" font-size="6.2" font-style="italic" fill="#000" textLength="20.3" lengthAdjust="spacingAndGlyphs">Rps3a1</text>
<circle cx="78.5" cy="481.7" r="1.5" fill="#ff1a1a"/>
<text x="57.8" y="479.8" font-size="6.2" font-style="italic" fill="#000" textLength="20.0" lengthAdjust="spacingAndGlyphs">Ppp1ca</text>
<circle cx="88.9" cy="479.1" r="1.5" fill="#ff1a1a"/>
<text x="82.5" y="485.0" font-size="6.2" font-style="italic" fill="#000" textLength="14.3" lengthAdjust="spacingAndGlyphs">Rps9</text>
<circle cx="99.5" cy="477.8" r="1.5" fill="#ff1a1a"/>
<text x="88.9" y="475.0" font-size="6.2" font-style="italic" fill="#000" textLength="13.1" lengthAdjust="spacingAndGlyphs">Eif3k</text>
<text x="214.3" y="564.4" font-size="6.3" fill="#000">size</text>
<circle cx="217.20" cy="569.00" r="1.00" fill="#d8c08f"/>
<text x="222.2" y="571.1" font-size="6.0" fill="#000">6</text>
<circle cx="217.20" cy="574.10" r="2.00" fill="#d8c08f"/>
<text x="222.2" y="576.2" font-size="6.0" fill="#000">9</text>
<circle cx="217.20" cy="580.20" r="2.40" fill="#d8c08f"/>
<text x="222.2" y="582.3" font-size="6.0" fill="#000">12</text>
<circle cx="217.20" cy="586.40" r="2.70" fill="#d8c08f"/>
<text x="222.2" y="588.5" font-size="6.0" fill="#000">15</text>
<text x="201.1" y="596.4" font-size="6.3" fill="#000">category</text>
<line x1="201.70" y1="601.50" x2="205.70" y2="601.50" stroke="#F8766D" stroke-width="0.9"/>
<text x="208.10" y="602.20" font-size="6.1" fill="#000">cytoplasmic translation</text>
<line x1="201.70" y1="606.40" x2="205.70" y2="606.40" stroke="#D89000" stroke-width="0.9"/>
<text x="208.10" y="607.10" font-size="6.1" fill="#000">proteasomal ubiquitin−independent</text>
<text x="208.10" y="612.00" font-size="6.1" fill="#000">protein catabolic process</text>
<line x1="201.70" y1="616.40" x2="205.70" y2="616.40" stroke="#A3A500" stroke-width="0.9"/>
<text x="208.10" y="617.10" font-size="6.1" fill="#000">regulation of cellular amide</text>
<text x="208.10" y="622.00" font-size="6.1" fill="#000">metabolic process</text>
<line x1="201.70" y1="626.20" x2="205.70" y2="626.20" stroke="#39B600" stroke-width="0.9"/>
<text x="208.10" y="626.90" font-size="6.1" fill="#000">regulation of translation</text>
<line x1="201.70" y1="631.00" x2="205.70" y2="631.00" stroke="#00BF7D" stroke-width="0.9"/>
<text x="208.10" y="631.70" font-size="6.1" fill="#000">ribonucleoprotein complex assembly</text>
<line x1="201.70" y1="635.90" x2="205.70" y2="635.90" stroke="#00BFC4" stroke-width="0.9"/>
<text x="208.10" y="636.60" font-size="6.1" fill="#000">ribonucleoprotein complex biogenesis</text>
<line x1="201.70" y1="640.90" x2="205.70" y2="640.90" stroke="#00B0F6" stroke-width="0.9"/>
<text x="208.10" y="641.60" font-size="6.1" fill="#000">ribosomal small subunit assembly</text>
<line x1="201.70" y1="645.80" x2="205.70" y2="645.80" stroke="#9590FF" stroke-width="0.9"/>
<text x="208.10" y="646.50" font-size="6.1" fill="#000">ribosomal small subunit biogenesis</text>
<line x1="201.70" y1="650.70" x2="205.70" y2="650.70" stroke="#E76BF3" stroke-width="0.9"/>
<text x="208.10" y="651.40" font-size="6.1" fill="#000">ribosome assembly</text>
<line x1="201.70" y1="656.00" x2="205.70" y2="656.00" stroke="#FF62BC" stroke-width="0.9"/>
<text x="208.10" y="656.70" font-size="6.1" fill="#000">ribosome biogenesis</text>
<text transform="translate(319.30 462.20) scale(0.95 1)" font-size="22" font-weight="bold" fill="#000">f</text>
<text x="438.2" y="462.7" font-size="12" fill="#111" text-anchor="middle">Pattern 2 - down-down</text>
<path d="M429.1 479.0C421.4 555.1 431.6 575.9 496.5 616.4 M429.1 479.0C420.6 563.1 423.2 573.3 471.5 642.7 M429.1 479.0C420.3 565.8 421.1 571.3 455.5 651.6 M429.1 479.0C420.1 567.7 420.2 569.7 438.1 657.1 M429.1 479.0C420.0 568.6 420.0 568.8 420.0 658.9 M429.1 479.0C420.0 568.6 420.0 568.8 401.9 657.1 M429.1 479.0C420.1 567.7 419.6 569.7 384.5 651.6 M429.1 479.0C420.3 565.8 418.4 571.1 368.5 642.7" stroke="#9590FF" stroke-width="0.7" fill="none" stroke-opacity="0.85"/>
<path d="M447.0 482.6C422.8 559.9 425.3 576.3 471.5 642.7 M447.0 482.6C421.7 563.3 422.2 573.9 455.5 651.6 M447.0 482.6C420.3 567.7 419.4 569.6 368.5 642.7" stroke="#D89000" stroke-width="0.7" fill="none" stroke-opacity="0.85"/>
<path d="M463.7 489.8C421.4 566.2 417.6 570.2 343.5 616.4 M463.7 489.8C422.7 563.8 414.7 570.7 335.5 600.0 M463.7 489.8C424.5 560.6 410.9 570.1 330.9 582.4 M463.7 489.8C429.1 552.2 401.8 564.0 332.8 546.1 M463.7 489.8C432.0 547.0 397.7 557.8 339.1 529.0" stroke="#A3A500" stroke-width="0.7" fill="none" stroke-opacity="0.85"/>
<path d="M478.7 500.3C440.5 544.8 446.7 585.3 496.5 616.4 M478.7 500.3C423.7 564.4 420.0 574.3 420.0 658.9 M478.7 500.3C426.0 561.7 410.8 568.2 330.0 564.1" stroke="#E76BF3" stroke-width="0.7" fill="none" stroke-opacity="0.85"/>
<path d="M491.2 513.5C450.5 545.0 452.8 589.2 496.5 616.4 M491.2 513.5C439.6 553.5 434.2 589.1 471.5 642.7 M491.2 513.5C427.3 563.1 420.0 577.9 420.0 658.9 M491.2 513.5C424.4 565.3 414.4 568.4 330.0 564.1 M491.2 513.5C427.3 563.1 411.1 566.4 332.8 546.1 M491.2 513.5C434.9 557.1 405.1 557.1 348.8 513.5" stroke="#F8766D" stroke-width="0.7" fill="none" stroke-opacity="0.85"/>
<path d="M500.9 529.0C454.7 551.7 448.0 595.3 485.3 630.8 M500.9 529.0C420.1 568.6 419.9 568.7 335.5 600.0 M500.9 529.0C420.9 568.2 419.0 568.9 330.9 582.4 M500.9 529.0C425.0 566.2 414.6 567.3 332.8 546.1 M500.9 529.0C428.3 564.6 411.7 564.6 339.1 529.0 M500.9 529.0C436.9 560.4 407.7 554.4 361.3 500.3 M500.9 529.0C442.3 557.8 408.0 547.0 376.3 489.8" stroke="#00B0F6" stroke-width="0.7" fill="none" stroke-opacity="0.85"/>
<path d="M507.2 546.1C472.8 555.0 466.3 597.6 496.5 616.4 M507.2 546.1C438.2 564.0 420.0 587.6 420.0 658.9 M507.2 546.1C421.0 568.4 419.0 568.6 330.0 564.1" stroke="#00BF7D" stroke-width="0.7" fill="none" stroke-opacity="0.85"/>
<path d="M510.0 564.1C425.6 568.4 415.9 572.6 354.7 630.8 M510.0 564.1C433.6 568.0 413.4 556.8 376.3 489.8 M510.0 564.1C438.8 567.7 414.4 550.7 393.0 482.6" stroke="#FF62BC" stroke-width="0.7" fill="none" stroke-opacity="0.85"/>
<path d="M509.1 582.4C491.1 579.6 481.1 606.8 496.5 616.4 M509.1 582.4C451.0 573.5 420.0 600.1 420.0 658.9 M509.1 582.4C438.6 571.6 418.1 549.9 410.9 479.0" stroke="#39B600" stroke-width="0.7" fill="none" stroke-opacity="0.85"/>
<path d="M504.5 600.0C495.9 596.9 488.7 611.6 496.5 616.4 M504.5 600.0C456.2 582.1 420.0 607.4 420.0 658.9 M504.5 600.0C421.0 569.1 419.0 568.6 330.0 564.1" stroke="#00BFC4" stroke-width="0.7" fill="none" stroke-opacity="0.85"/>
<circle cx="429.1" cy="479.0" r="2.8" fill="#d8c08f"/>
<circle cx="447.0" cy="482.6" r="1.1" fill="#d8c08f"/>
<circle cx="463.7" cy="489.8" r="2.3" fill="#d8c08f"/>
<circle cx="478.7" cy="500.3" r="1.3" fill="#d8c08f"/>
<circle cx="491.2" cy="513.5" r="2.6" fill="#d8c08f"/>
<circle cx="500.9" cy="529.0" r="2.7" fill="#d8c08f"/>
<circle cx="507.2" cy="546.1" r="1.2" fill="#d8c08f"/>
<circle cx="510.0" cy="564.1" r="1.1" fill="#d8c08f"/>
<circle cx="509.1" cy="582.4" r="1.2" fill="#d8c08f"/>
<circle cx="504.5" cy="600.0" r="1.2" fill="#d8c08f"/>
<text x="430.6" y="474.5" font-size="6.4" fill="#333333" textLength="89.2" lengthAdjust="spacingAndGlyphs">regulation of membrane potential</text>
<text x="449.3" y="484.1" font-size="6.4" fill="#333333" textLength="63.4" lengthAdjust="spacingAndGlyphs">cellular response to pH</text>
<text x="468.4" y="492.7" font-size="6.4" fill="#333333" textLength="131.9" lengthAdjust="spacingAndGlyphs">developmental growth involved in morphogenesis</text>
<text x="482.0" y="502.2" font-size="6.4" fill="#333333" textLength="78.5" lengthAdjust="spacingAndGlyphs">synaptic membrane adhesion</text>
<text x="496.1" y="515.8" font-size="6.4" fill="#333333" textLength="58.9" lengthAdjust="spacingAndGlyphs">cell junction assembly</text>
<text x="506.2" y="531.4" font-size="6.4" fill="#333333" textLength="63.9" lengthAdjust="spacingAndGlyphs">regulation of cell growth</text>
<text x="469.4" y="554.1" font-size="6.4" fill="#333333" textLength="89.6" lengthAdjust="spacingAndGlyphs">postsynaptic density organization</text>
<text x="466.9" y="571.7" font-size="6.4" fill="#333333" textLength="86.6" lengthAdjust="spacingAndGlyphs">triglyceride biosynthetic process</text>
<text x="459.3" y="590.8" font-size="6.4" fill="#333333" textLength="115.3" lengthAdjust="spacingAndGlyphs">positive regulation of synaptic transmission</text>
<text x="442.2" y="607.0" font-size="6.4" fill="#333333" textLength="106.3" lengthAdjust="spacingAndGlyphs">postsynaptic specialization organization</text>
<circle cx="496.5" cy="616.4" r="1.5" fill="#ff1a1a"/>
<text x="488.5" y="624.0" font-size="6.2" font-style="italic" fill="#000" textLength="16.0" lengthAdjust="spacingAndGlyphs">Nlgn1</text>
<circle cx="485.3" cy="630.8" r="1.5" fill="#ff1a1a"/>
<text x="473.9" y="639.2" font-size="6.2" font-style="italic" fill="#000" textLength="25.1" lengthAdjust="spacingAndGlyphs">Slc25a33</text>
<circle cx="471.5" cy="642.7" r="1.5" fill="#ff1a1a"/>
<text x="463.9" y="650.9" font-size="8.2" font-style="italic" fill="#000" textLength="17.6" lengthAdjust="spacingAndGlyphs">Gja1</text>
<circle cx="455.5" cy="651.6" r="1.5" fill="#ff1a1a"/>
<text x="448.5" y="659.1" font-size="6.2" font-style="italic" fill="#000" textLength="18.9" lengthAdjust="spacingAndGlyphs">Slc4a4</text>
<circle cx="438.1" cy="657.1" r="1.5" fill="#ff1a1a"/>
<text x="432.4" y="664.0" font-size="6.2" font-style="italic" fill="#000" textLength="14.6" lengthAdjust="spacingAndGlyphs">Ank2</text>
<circle cx="420.0" cy="658.9" r="1.5" fill="#ff1a1a"/>
<text x="414.9" y="665.9" font-size="6.2" font-style="italic" fill="#000" textLength="15.5" lengthAdjust="spacingAndGlyphs">Nrxn1</text>
<circle cx="401.9" cy="657.1" r="1.5" fill="#ff1a1a"/>
<text x="396.5" y="664.0" font-size="6.2" font-style="italic" fill="#000" textLength="16.3" lengthAdjust="spacingAndGlyphs">Kcnk1</text>
<circle cx="384.5" cy="651.6" r="1.5" fill="#ff1a1a"/>
<text x="376.4" y="659.1" font-size="6.2" font-style="italic" fill="#000" textLength="20.1" lengthAdjust="spacingAndGlyphs">Gabrb1</text>
<circle cx="368.5" cy="642.7" r="1.5" fill="#ff1a1a"/>
<text x="360.9" y="650.3" font-size="6.2" font-style="italic" fill="#000" textLength="21.9" lengthAdjust="spacingAndGlyphs">Slc38a3</text>
<circle cx="354.7" cy="630.8" r="1.5" fill="#ff1a1a"/>
<text x="349.2" y="638.6" font-size="6.2" font-style="italic" fill="#000" textLength="16.1" lengthAdjust="spacingAndGlyphs">Gpld1</text>
<circle cx="343.5" cy="616.4" r="1.5" fill="#ff1a1a"/>
<text x="338.4" y="624.0" font-size="6.2" font-style="italic" fill="#000" textLength="14.6" lengthAdjust="spacingAndGlyphs">Dclk1</text>
<circle cx="335.5" cy="600.0" r="1.5" fill="#ff1a1a"/>
<text x="329.6" y="607.1" font-size="6.2" font-style="italic" fill="#000" textLength="12.3" lengthAdjust="spacingAndGlyphs">Omg</text>
<circle cx="330.9" cy="582.4" r="1.5" fill="#ff1a1a"/>
<text x="324.4" y="589.0" font-size="6.2" font-style="italic" fill="#000" textLength="14.6" lengthAdjust="spacingAndGlyphs">Bcan</text>
<circle cx="330.0" cy="564.1" r="1.5" fill="#ff1a1a"/>
<text x="321.5" y="571.5" font-size="6.2" font-style="italic" fill="#000" textLength="19.5" lengthAdjust="spacingAndGlyphs">Cadm1</text>
<circle cx="332.8" cy="546.1" r="1.5" fill="#ff1a1a"/>
<text x="324.4" y="553.9" font-size="6.2" font-style="italic" fill="#000" textLength="14.9" lengthAdjust="spacingAndGlyphs">Vegfa</text>
<circle cx="339.1" cy="529.0" r="1.5" fill="#ff1a1a"/>
<text x="332.3" y="537.2" font-size="6.2" font-style="italic" fill="#000" textLength="11.4" lengthAdjust="spacingAndGlyphs">Mgll</text>
<circle cx="348.8" cy="513.5" r="1.5" fill="#ff1a1a"/>
<text x="334.4" y="523.2" font-size="8.2" font-style="italic" fill="#000" textLength="18.0" lengthAdjust="spacingAndGlyphs">Gjb6</text>
<circle cx="361.3" cy="500.3" r="1.5" fill="#ff1a1a"/>
<text x="339.6" y="508.3" font-size="6.2" font-style="italic" fill="#000" textLength="25.1" lengthAdjust="spacingAndGlyphs">Fam107a</text>
<circle cx="376.3" cy="489.8" r="1.5" fill="#ff1a1a"/>
<text x="356.8" y="495.5" font-size="6.2" font-style="italic" fill="#000" textLength="19.3" lengthAdjust="spacingAndGlyphs">Mfsd2a</text>
<circle cx="393.0" cy="482.6" r="1.5" fill="#ff1a1a"/>
<text x="376.9" y="487.3" font-size="6.2" font-style="italic" fill="#000" textLength="14.1" lengthAdjust="spacingAndGlyphs">Acsl6</text>
<circle cx="410.9" cy="479.0" r="1.5" fill="#ff1a1a"/>
<text x="395.0" y="482.4" font-size="8.2" font-style="italic" fill="#000" textLength="14.7" lengthAdjust="spacingAndGlyphs">Glul</text>
<text x="576.4" y="555.1" font-size="6.3" fill="#000">size</text>
<circle cx="579.50" cy="560.10" r="1.10" fill="#d8c08f"/>
<text x="585.0" y="562.2" font-size="6.0" fill="#000">3</text>
<circle cx="579.50" cy="565.30" r="1.80" fill="#d8c08f"/>
<text x="585.0" y="567.4" font-size="6.0" fill="#000">4</text>
<circle cx="579.50" cy="570.20" r="2.20" fill="#d8c08f"/>
<text x="585.0" y="572.3" font-size="6.0" fill="#000">5</text>
<circle cx="579.50" cy="575.80" r="2.50" fill="#d8c08f"/>
<text x="585.0" y="577.9" font-size="6.0" fill="#000">6</text>
<circle cx="579.50" cy="581.80" r="2.70" fill="#d8c08f"/>
<text x="585.0" y="583.9" font-size="6.0" fill="#000">7</text>
<circle cx="579.50" cy="588.00" r="2.90" fill="#d8c08f"/>
<text x="585.0" y="590.1" font-size="6.0" fill="#000">8</text>
<text x="561.8" y="599.3" font-size="6.3" fill="#000">category</text>
<line x1="562.20" y1="603.80" x2="566.20" y2="603.80" stroke="#F8766D" stroke-width="0.9"/>
<text x="568.20" y="604.50" font-size="6.1" fill="#000">cell junction assembly</text>
<line x1="562.20" y1="608.80" x2="566.20" y2="608.80" stroke="#D89000" stroke-width="0.9"/>
<text x="568.20" y="609.50" font-size="6.1" fill="#000">cellular response to pH</text>
<line x1="562.20" y1="613.90" x2="566.20" y2="613.90" stroke="#A3A500" stroke-width="0.9"/>
<text x="568.20" y="614.60" font-size="6.1" fill="#000">developmental growth involved</text>
<text x="568.20" y="619.50" font-size="6.1" fill="#000">in morphogenesis</text>
<line x1="562.20" y1="623.90" x2="566.20" y2="623.90" stroke="#39B600" stroke-width="0.9"/>
<text x="568.20" y="624.60" font-size="6.1" fill="#000">positive regulation of synaptic transmission</text>
<line x1="562.20" y1="629.00" x2="566.20" y2="629.00" stroke="#00BF7D" stroke-width="0.9"/>
<text x="568.20" y="629.70" font-size="6.1" fill="#000">postsynaptic density organization</text>
<line x1="562.20" y1="633.90" x2="566.20" y2="633.90" stroke="#00BFC4" stroke-width="0.9"/>
<text x="568.20" y="634.60" font-size="6.1" fill="#000">postsynaptic specialization organization</text>
<line x1="562.20" y1="639.40" x2="566.20" y2="639.40" stroke="#00B0F6" stroke-width="0.9"/>
<text x="568.20" y="640.10" font-size="6.1" fill="#000">regulation of cell growth</text>
<line x1="562.20" y1="644.30" x2="566.20" y2="644.30" stroke="#9590FF" stroke-width="0.9"/>
<text x="568.20" y="645.00" font-size="6.1" fill="#000">regulation of membrane potential</text>
<line x1="562.20" y1="649.10" x2="566.20" y2="649.10" stroke="#E76BF3" stroke-width="0.9"/>
<text x="568.20" y="649.80" font-size="6.1" fill="#000">synaptic membrane adhesion</text>
<line x1="562.20" y1="654.40" x2="566.20" y2="654.40" stroke="#FF62BC" stroke-width="0.9"/>
<text x="568.20" y="655.10" font-size="6.1" fill="#000">triglyceride biosynthetic process</text>
<text transform="translate(0.85 685.50) scale(0.95 1)" font-size="22" font-weight="bold" fill="#000">g</text>
<text x="126.6" y="690.3" font-size="12" fill="#111" text-anchor="middle">Pattern 3 - up-down</text>
<path d="M112.1 705.2C106.8 771.3 125.9 797.1 192.0 812.6 M112.1 705.2C106.4 775.6 120.9 798.6 187.7 825.6 M112.1 705.2C106.1 779.4 116.3 798.9 181.3 837.8 M112.1 705.2C105.9 782.7 112.5 798.4 173.1 848.9 M112.1 705.2C105.6 785.6 109.5 797.3 163.2 858.6 M112.1 705.2C105.4 787.9 107.4 795.8 151.8 866.6 M112.1 705.2C105.3 789.8 106.0 794.4 139.3 872.9 M112.1 705.2C105.2 791.1 105.4 793.2 126.0 877.1 M112.1 705.2C105.1 791.9 105.1 792.5 112.1 879.2" stroke="#FF62BC" stroke-width="0.7" fill="none" stroke-opacity="0.85"/>
<path d="M126.0 707.3C105.2 791.9 105.1 792.5 98.1 879.2 M126.0 707.3C105.1 792.2 105.1 792.2 84.2 877.1 M126.0 707.3C105.2 791.9 105.0 792.4 70.9 872.9 M126.0 707.3C105.4 791.2 104.5 793.1 58.4 866.6 M126.0 707.3C105.7 789.9 103.5 794.0 47.0 858.6" stroke="#A3A500" stroke-width="0.7" fill="none" stroke-opacity="0.85"/>
<path d="M139.3 711.5C119.2 759.0 141.8 795.0 194.2 799.0 M139.3 711.5C117.1 763.9 135.6 799.3 192.0 812.6 M139.3 711.5C115.1 768.6 129.3 802.0 187.7 825.6 M139.3 711.5C110.1 780.3 113.7 802.0 163.2 858.6 M139.3 711.5C107.7 786.1 107.7 798.3 139.3 872.9 M139.3 711.5C106.0 790.0 105.3 794.6 112.1 879.2" stroke="#00B0F6" stroke-width="0.7" fill="none" stroke-opacity="0.85"/>
<path d="M151.8 717.8C121.5 766.1 134.1 803.9 187.7 825.6 M151.8 717.8C114.0 778.0 116.2 804.9 163.2 858.6 M151.8 717.8C112.0 781.2 112.0 803.2 151.8 866.6 M151.8 717.8C108.7 786.5 106.7 798.7 126.0 877.1 M151.8 717.8C105.2 792.0 104.9 792.4 47.0 858.6 M151.8 717.8C105.7 791.3 104.3 792.9 37.1 848.9 M151.8 717.8C106.4 790.1 103.0 793.5 28.9 837.8 M151.8 717.8C107.4 788.6 101.1 793.8 22.5 825.6 M151.8 717.8C108.7 786.5 98.5 793.8 18.2 812.6" stroke="#E76BF3" stroke-width="0.7" fill="none" stroke-opacity="0.85"/>
<path d="M163.2 725.8C136.8 756.0 153.8 795.9 194.2 799.0 M163.2 725.8C132.8 760.5 146.6 801.9 192.0 812.6 M163.2 725.8C129.0 764.8 139.1 806.0 187.7 825.6 M163.2 725.8C125.5 768.9 131.8 808.2 181.3 837.8 M163.2 725.8C113.7 782.4 110.1 804.1 139.3 872.9 M163.2 725.8C109.5 787.1 98.3 792.7 16.0 799.0" stroke="#9590FF" stroke-width="0.7" fill="none" stroke-opacity="0.85"/>
<path d="M173.1 735.5C110.3 787.9 104.6 798.8 98.1 879.2 M173.1 735.5C108.4 789.4 104.1 796.4 84.2 877.1 M173.1 735.5C107.0 790.6 104.2 794.4 70.9 872.9 M173.1 735.5C105.9 791.5 104.5 793.1 58.4 866.6" stroke="#39B600" stroke-width="0.7" fill="none" stroke-opacity="0.85"/>
<path d="M181.3 746.6C157.8 760.7 166.7 796.9 194.2 799.0 M181.3 746.6C141.5 770.4 141.5 814.0 181.3 837.8 M181.3 746.6C113.4 787.2 104.3 801.7 98.1 879.2 M181.3 746.6C108.8 790.0 103.4 796.1 70.9 872.9 M181.3 746.6C107.2 790.9 103.8 794.3 58.4 866.6 M181.3 746.6C108.8 790.0 100.7 791.9 16.0 785.4 M181.3 746.6C110.9 788.7 98.5 790.6 18.2 771.8 M181.3 746.6C113.4 787.2 96.1 788.6 22.5 758.8 M181.3 746.6C116.3 785.5 93.9 785.5 28.9 746.6" stroke="#F8766D" stroke-width="0.7" fill="none" stroke-opacity="0.85"/>
<path d="M187.7 758.8C156.1 771.6 156.1 812.8 187.7 825.6 M187.7 758.8C117.3 787.3 95.1 783.8 37.1 735.5 M187.7 758.8C120.9 785.8 94.0 779.5 47.0 725.8 M187.7 758.8C124.9 784.2 93.9 774.4 58.4 717.8" stroke="#00BF7D" stroke-width="0.7" fill="none" stroke-opacity="0.85"/>
<path d="M192.0 771.8C178.4 775.0 180.3 798.0 194.2 799.0 M192.0 771.8C165.2 778.1 162.2 815.3 187.7 825.6 M192.0 771.8C158.8 779.6 152.2 820.4 181.3 837.8 M192.0 771.8C146.6 782.5 132.8 823.9 163.2 858.6 M192.0 771.8C125.9 787.3 106.8 813.1 112.1 879.2 M192.0 771.8C114.6 790.0 101.4 801.0 70.9 872.9 M192.0 771.8C111.7 790.6 101.5 797.9 58.4 866.6 M192.0 771.8C125.9 787.3 96.9 772.9 70.9 711.5 M192.0 771.8C130.6 786.2 99.0 767.3 84.2 707.3" stroke="#D89000" stroke-width="0.7" fill="none" stroke-opacity="0.85"/>
<path d="M194.2 785.4C173.4 786.9 168.4 817.8 187.7 825.6 M194.2 785.4C141.8 789.4 119.2 825.4 139.3 872.9 M194.2 785.4C131.2 790.2 107.2 817.7 112.1 879.2 M194.2 785.4C105.4 792.2 104.8 792.3 18.2 812.6 M194.2 785.4C126.5 790.6 100.1 771.9 84.2 707.3 M194.2 785.4C131.2 790.2 103.0 766.7 98.1 705.2" stroke="#00BFC4" stroke-width="0.7" fill="none" stroke-opacity="0.85"/>
<circle cx="112.1" cy="705.2" r="2.8" fill="#d8c08f"/>
<circle cx="126.0" cy="707.3" r="1.6" fill="#d8c08f"/>
<circle cx="139.3" cy="711.5" r="2.0" fill="#d8c08f"/>
<circle cx="151.8" cy="717.8" r="2.6" fill="#d8c08f"/>
<circle cx="163.2" cy="725.8" r="2.1" fill="#d8c08f"/>
<circle cx="173.1" cy="735.5" r="1.3" fill="#d8c08f"/>
<circle cx="181.3" cy="746.6" r="2.6" fill="#d8c08f"/>
<circle cx="187.7" cy="758.8" r="1.3" fill="#d8c08f"/>
<circle cx="192.0" cy="771.8" r="2.6" fill="#d8c08f"/>
<circle cx="194.2" cy="785.4" r="2.2" fill="#d8c08f"/>
<text x="106.6" y="701.0" font-size="6.4" fill="#333333" textLength="68.8" lengthAdjust="spacingAndGlyphs">steroid metabolic process</text>
<text x="128.1" y="707.1" font-size="6.4" fill="#333333" textLength="67.8" lengthAdjust="spacingAndGlyphs">NADH metabolic process</text>
<text x="142.0" y="714.2" font-size="6.4" fill="#333333" textLength="103.8" lengthAdjust="spacingAndGlyphs">regulation of steroid metabolic process</text>
<text x="155.7" y="720.7" font-size="6.4" fill="#333333" textLength="88.3" lengthAdjust="spacingAndGlyphs">small molecule catabolic process</text>
<text x="166.2" y="727.8" font-size="6.4" fill="#333333" textLength="89.6" lengthAdjust="spacingAndGlyphs">response to temperature stimulus</text>
<text x="177.0" y="737.8" font-size="6.4" fill="#333333" textLength="63.0" lengthAdjust="spacingAndGlyphs">NAD metabolic process</text>
<text x="139.9" y="754.4" font-size="6.4" fill="#333333" textLength="139.7" lengthAdjust="spacingAndGlyphs">energy derivation by oxidation of organic compounds</text>
<text x="161.3" y="764.9" font-size="6.4" fill="#333333" textLength="106.7" lengthAdjust="spacingAndGlyphs">nitric oxide mediated signal transduction</text>
<text x="158.0" y="779.6" font-size="6.4" fill="#333333" textLength="110.6" lengthAdjust="spacingAndGlyphs">monocarboxylic acid biosynthetic process</text>
<text x="169.0" y="792.7" font-size="6.4" fill="#333333" textLength="97.2" lengthAdjust="spacingAndGlyphs">positive regulation of anion transport</text>
<circle cx="194.2" cy="799.0" r="1.5" fill="#ff1a1a"/>
<text x="184.7" y="805.4" font-size="6.2" font-style="italic" fill="#000" textLength="18.7" lengthAdjust="spacingAndGlyphs">Acadvl</text>
<circle cx="192.0" cy="812.6" r="1.5" fill="#ff1a1a"/>
<text x="185.2" y="818.8" font-size="6.2" font-style="italic" fill="#000" textLength="16.0" lengthAdjust="spacingAndGlyphs">Stub1</text>
<circle cx="187.7" cy="825.6" r="1.5" fill="#ff1a1a"/>
<text x="178.6" y="832.4" font-size="8.2" font-style="italic" fill="#000" textLength="19.3" lengthAdjust="spacingAndGlyphs">Apoe</text>
<circle cx="181.3" cy="837.8" r="1.5" fill="#ff1a1a"/>
<text x="173.8" y="843.8" font-size="6.2" font-style="italic" fill="#000" textLength="15.8" lengthAdjust="spacingAndGlyphs">Acadl</text>
<circle cx="173.1" cy="848.9" r="1.5" fill="#ff1a1a"/>
<text x="162.7" y="855.2" font-size="6.2" font-style="italic" fill="#000" textLength="24.3" lengthAdjust="spacingAndGlyphs">Cyp2d22</text>
<circle cx="163.2" cy="858.6" r="1.5" fill="#ff1a1a"/>
<text x="153.3" y="863.3" font-size="6.2" font-style="italic" fill="#000" textLength="22.9" lengthAdjust="spacingAndGlyphs">Hsd11b1</text>
<circle cx="151.8" cy="866.6" r="1.5" fill="#ff1a1a"/>
<text x="146.4" y="872.6" font-size="6.2" font-style="italic" fill="#000" textLength="12.0" lengthAdjust="spacingAndGlyphs">Fdxr</text>
<circle cx="139.3" cy="872.9" r="1.5" fill="#ff1a1a"/>
<text x="130.3" y="878.5" font-size="6.2" font-style="italic" fill="#000" textLength="23.0" lengthAdjust="spacingAndGlyphs">Adora2b</text>
<circle cx="126.0" cy="877.1" r="1.5" fill="#ff1a1a"/>
<text x="118.6" y="885.2" font-size="6.2" font-style="italic" fill="#000" textLength="15.9" lengthAdjust="spacingAndGlyphs">Rdh5</text>
<circle cx="112.1" cy="879.2" r="1.5" fill="#ff1a1a"/>
<text x="107.8" y="885.2" font-size="6.2" font-style="italic" fill="#000" textLength="8.4" lengthAdjust="spacingAndGlyphs">Agt</text>
<circle cx="98.1" cy="879.2" r="1.5" fill="#ff1a1a"/>
<text x="90.7" y="885.2" font-size="6.2" font-style="italic" fill="#000" textLength="15.2" lengthAdjust="spacingAndGlyphs">Idh3g</text>
<circle cx="84.2" cy="877.1" r="1.5" fill="#ff1a1a"/>
<text x="76.3" y="883.8" font-size="6.2" font-style="italic" fill="#000" textLength="14.4" lengthAdjust="spacingAndGlyphs">Nqo1</text>
<circle cx="70.9" cy="872.9" r="1.5" fill="#ff1a1a"/>
<text x="62.6" y="879.7" font-size="6.2" font-style="italic" fill="#000" textLength="13.7" lengthAdjust="spacingAndGlyphs">Ldha</text>
<circle cx="58.4" cy="866.6" r="1.5" fill="#ff1a1a"/>
<text x="50.9" y="872.8" font-size="6.2" font-style="italic" fill="#000" textLength="13.6" lengthAdjust="spacingAndGlyphs">Pfkm</text>
<circle cx="47.0" cy="858.6" r="1.5" fill="#ff1a1a"/>
<text x="36.1" y="864.5" font-size="6.2" font-style="italic" fill="#000" textLength="21.8" lengthAdjust="spacingAndGlyphs">Aldh6a1</text>
<circle cx="37.1" cy="848.9" r="1.5" fill="#ff1a1a"/>
<text x="28.1" y="854.8" font-size="6.2" font-style="italic" fill="#000" textLength="16.9" lengthAdjust="spacingAndGlyphs">Asrgl1</text>
<circle cx="28.9" cy="837.8" r="1.5" fill="#ff1a1a"/>
<text x="20.9" y="843.6" font-size="6.2" font-style="italic" fill="#000" textLength="14.2" lengthAdjust="spacingAndGlyphs">Upp1</text>
<circle cx="22.5" cy="825.6" r="1.5" fill="#ff1a1a"/>
<text x="14.8" y="832.6" font-size="6.2" font-style="italic" fill="#000" textLength="14.6" lengthAdjust="spacingAndGlyphs">Cdo1</text>
<circle cx="18.2" cy="812.6" r="1.5" fill="#ff1a1a"/>
<text x="11.8" y="819.7" font-size="6.2" font-style="italic" fill="#000" textLength="11.9" lengthAdjust="spacingAndGlyphs">Ccl2</text>
<circle cx="16.0" cy="799.0" r="1.5" fill="#ff1a1a"/>
<text x="11.4" y="805.5" font-size="6.2" font-style="italic" fill="#000" textLength="9.5" lengthAdjust="spacingAndGlyphs">Lxn</text>
<circle cx="16.0" cy="785.4" r="1.5" fill="#ff1a1a"/>
<text x="6.6" y="792.7" font-size="6.2" font-style="italic" fill="#000" textLength="18.1" lengthAdjust="spacingAndGlyphs">Cavin3</text>
<circle cx="18.2" cy="771.8" r="1.5" fill="#ff1a1a"/>
<text x="3.8" y="781.9" font-size="8.2" font-style="italic" fill="#000" textLength="24.1" lengthAdjust="spacingAndGlyphs">S100b</text>
<circle cx="22.5" cy="758.8" r="1.5" fill="#ff1a1a"/>
<text x="12.9" y="766.2" font-size="6.2" font-style="italic" fill="#000" textLength="13.7" lengthAdjust="spacingAndGlyphs">Coq7</text>
<circle cx="28.9" cy="746.6" r="1.5" fill="#ff1a1a"/>
<text x="18.4" y="753.8" font-size="6.2" font-style="italic" fill="#000" textLength="13.5" lengthAdjust="spacingAndGlyphs">Sdhb</text>
<circle cx="37.1" cy="735.5" r="1.5" fill="#ff1a1a"/>
<text x="27.9" y="742.1" font-size="6.2" font-style="italic" fill="#000" textLength="10.1" lengthAdjust="spacingAndGlyphs">Mt1</text>
<circle cx="47.0" cy="725.8" r="1.5" fill="#ff1a1a"/>
<text x="36.6" y="732.6" font-size="6.2" font-style="italic" fill="#000" textLength="9.9" lengthAdjust="spacingAndGlyphs">Mt2</text>
<circle cx="58.4" cy="717.8" r="1.5" fill="#ff1a1a"/>
<text x="44.6" y="723.1" font-size="6.2" font-style="italic" fill="#000" textLength="14.2" lengthAdjust="spacingAndGlyphs">Gatm</text>
<circle cx="70.9" cy="711.5" r="1.5" fill="#ff1a1a"/>
<text x="52.8" y="714.2" font-size="6.2" font-style="italic" fill="#000" textLength="15.1" lengthAdjust="spacingAndGlyphs">Ptgds</text>
<circle cx="84.2" cy="707.3" r="1.5" fill="#ff1a1a"/>
<text x="67.4" y="705.5" font-size="6.2" font-style="italic" fill="#000" textLength="19.5" lengthAdjust="spacingAndGlyphs">Gabbr1</text>
<circle cx="98.1" cy="705.2" r="1.5" fill="#ff1a1a"/>
<text x="88.3" y="700.9" font-size="6.2" font-style="italic" fill="#000" textLength="16.1" lengthAdjust="spacingAndGlyphs">Fxyd1</text>
<text x="217.4" y="799.1" font-size="6.3" fill="#000">size</text>
<circle cx="220.00" cy="803.70" r="1.20" fill="#d8c08f"/>
<text x="224.8" y="805.8" font-size="6.0" fill="#000">4</text>
<circle cx="220.00" cy="808.60" r="1.90" fill="#d8c08f"/>
<text x="224.8" y="810.7" font-size="6.0" fill="#000">6</text>
<circle cx="220.00" cy="814.10" r="2.40" fill="#d8c08f"/>
<text x="224.8" y="816.2" font-size="6.0" fill="#000">8</text>
<circle cx="220.00" cy="819.80" r="2.80" fill="#d8c08f"/>
<text x="224.8" y="821.9" font-size="6.0" fill="#000">10</text>
<text x="203.0" y="829.9" font-size="6.3" fill="#000">category</text>
<line x1="203.50" y1="834.20" x2="207.50" y2="834.20" stroke="#F8766D" stroke-width="0.9"/>
<text x="209.20" y="834.90" font-size="6.1" fill="#000">energy derivation by oxidation of</text>
<text x="209.20" y="839.80" font-size="6.1" fill="#000">organic compounds</text>
<line x1="203.50" y1="844.10" x2="207.50" y2="844.10" stroke="#D89000" stroke-width="0.9"/>
<text x="209.20" y="844.80" font-size="6.1" fill="#000">monocarboxylic acid biosynthetic process</text>
<line x1="203.50" y1="848.80" x2="207.50" y2="848.80" stroke="#A3A500" stroke-width="0.9"/>
<text x="209.20" y="849.50" font-size="6.1" fill="#000">NADH metabolic process</text>
<line x1="203.50" y1="853.60" x2="207.50" y2="853.60" stroke="#39B600" stroke-width="0.9"/>
<text x="209.20" y="854.30" font-size="6.1" fill="#000">NAD metabolic process</text>
<line x1="203.50" y1="857.90" x2="207.50" y2="857.90" stroke="#00BF7D" stroke-width="0.9"/>
<text x="209.20" y="858.60" font-size="6.1" fill="#000">nitric oxide mediated signal transduction</text>
<line x1="203.50" y1="863.10" x2="207.50" y2="863.10" stroke="#00BFC4" stroke-width="0.9"/>
<text x="209.20" y="863.80" font-size="6.1" fill="#000">positive regulation of anion transport</text>
<line x1="203.50" y1="867.80" x2="207.50" y2="867.80" stroke="#00B0F6" stroke-width="0.9"/>
<text x="209.20" y="868.50" font-size="6.1" fill="#000">regulation of steroid metabolic process</text>
<line x1="203.50" y1="872.90" x2="207.50" y2="872.90" stroke="#9590FF" stroke-width="0.9"/>
<text x="209.20" y="873.60" font-size="6.1" fill="#000">response to temperature stimulus</text>
<line x1="203.50" y1="877.70" x2="207.50" y2="877.70" stroke="#E76BF3" stroke-width="0.9"/>
<text x="209.20" y="878.40" font-size="6.1" fill="#000">small molecule catabolic process</text>
<line x1="203.50" y1="882.60" x2="207.50" y2="882.60" stroke="#FF62BC" stroke-width="0.9"/>
<text x="209.20" y="883.30" font-size="6.1" fill="#000">steroid metabolic process</text>
<text transform="translate(319.00 690.30) scale(0.95 1)" font-size="22" font-weight="bold" fill="#000">h</text>
<text x="428.5" y="690.5" font-size="12" fill="#111" text-anchor="middle">Pattern 4 - down-up</text>
<path d="M432.6 704.6C416.6 788.8 413.7 794.6 355.2 857.9 M432.6 704.6C417.7 782.9 407.5 796.3 335.3 831.8 M432.6 704.6C419.3 774.4 397.9 793.8 326.2 800.3" stroke="#9590FF" stroke-width="0.7" fill="none" stroke-opacity="0.85"/>
<path d="M463.5 716.4C416.2 791.8 415.7 792.4 355.2 857.9 M463.5 716.4C421.0 784.2 406.6 793.0 326.2 800.3 M463.5 716.4C425.6 776.8 398.5 787.2 329.2 767.7" stroke="#00BF7D" stroke-width="0.7" fill="none" stroke-opacity="0.85"/>
<path d="M488.0 738.5C416.3 791.9 415.7 792.4 355.2 857.9 M488.0 738.5C423.5 786.5 406.9 789.5 329.2 767.7" stroke="#39B600" stroke-width="0.7" fill="none" stroke-opacity="0.85"/>
<path d="M502.8 767.7C419.3 791.2 412.7 791.2 329.2 767.7 M502.8 767.7C425.1 789.5 408.5 786.5 344.0 738.5" stroke="#D89000" stroke-width="0.7" fill="none" stroke-opacity="0.85"/>
<path d="M505.8 800.3C425.4 793.0 409.6 799.0 355.2 857.9 M505.8 800.3C416.4 792.1 415.6 792.1 326.2 800.3 M505.8 800.3C416.4 792.1 415.6 792.0 329.2 767.7" stroke="#00B0F6" stroke-width="0.7" fill="none" stroke-opacity="0.85"/>
<path d="M496.7 831.8C432.3 800.1 403.7 805.4 355.2 857.9 M496.7 831.8C419.1 793.6 412.6 792.4 326.2 800.3 M496.7 831.8C416.3 792.3 415.6 792.0 329.2 767.7" stroke="#A3A500" stroke-width="0.7" fill="none" stroke-opacity="0.85"/>
<path d="M476.8 857.9C435.8 813.6 396.2 813.6 355.2 857.9 M476.8 857.9C428.3 805.4 399.7 800.1 335.3 831.8 M476.8 857.9C422.4 799.0 406.6 793.0 326.2 800.3" stroke="#E76BF3" stroke-width="0.7" fill="none" stroke-opacity="0.85"/>
<path d="M448.6 875.1C431.4 831.4 387.2 823.2 355.2 857.9 M448.6 875.1C426.6 819.2 389.7 805.0 335.3 831.8 M448.6 875.1C422.6 808.9 397.9 793.8 326.2 800.3" stroke="#FF62BC" stroke-width="0.7" fill="none" stroke-opacity="0.85"/>
<path d="M416.0 881.1C416.0 848.9 377.2 834.1 355.2 857.9 M416.0 881.1C416.0 821.1 386.7 794.8 326.2 800.3 M416.0 881.1C416.0 810.1 398.5 787.2 329.2 767.7" stroke="#00BFC4" stroke-width="0.7" fill="none" stroke-opacity="0.85"/>
<path d="M383.4 875.1C405.4 819.2 387.7 784.2 329.2 767.7 M383.4 875.1C412.6 800.8 411.0 784.2 368.5 716.4 M383.4 875.1C414.8 795.3 415.4 788.8 399.4 704.6" stroke="#F8766D" stroke-width="0.7" fill="none" stroke-opacity="0.85"/>
<circle cx="432.6" cy="704.6" r="2.8" fill="#d8c08f"/>
<circle cx="463.5" cy="716.4" r="2.8" fill="#d8c08f"/>
<circle cx="488.0" cy="738.5" r="1.0" fill="#d8c08f"/>
<circle cx="502.8" cy="767.7" r="1.0" fill="#d8c08f"/>
<circle cx="505.8" cy="800.3" r="2.6" fill="#d8c08f"/>
<circle cx="496.7" cy="831.8" r="2.6" fill="#d8c08f"/>
<circle cx="476.8" cy="857.9" r="2.6" fill="#d8c08f"/>
<circle cx="448.6" cy="875.1" r="2.6" fill="#d8c08f"/>
<circle cx="416.0" cy="881.1" r="2.7" fill="#d8c08f"/>
<circle cx="383.4" cy="875.1" r="2.7" fill="#d8c08f"/>
<text x="438.0" y="707.2" font-size="6.4" fill="#333333" textLength="113.8" lengthAdjust="spacingAndGlyphs">regulation of multicellular organism growth</text>
<text x="470.0" y="718.8" font-size="6.4" fill="#333333" textLength="61.0" lengthAdjust="spacingAndGlyphs">receptor internalization</text>
<text x="446.9" y="747.3" font-size="6.4" fill="#333333" textLength="118.4" lengthAdjust="spacingAndGlyphs">positive regulation of receptor internalization</text>
<text x="480.8" y="776.1" font-size="6.4" fill="#333333" textLength="43.0" lengthAdjust="spacingAndGlyphs">mating behavior</text>
<text x="468.2" y="810.0" font-size="6.4" fill="#333333" textLength="72.7" lengthAdjust="spacingAndGlyphs">receptor metabolic process</text>
<text x="459.1" y="841.1" font-size="6.4" fill="#333333" textLength="77.6" lengthAdjust="spacingAndGlyphs">multicellular organism growth</text>
<text x="433.9" y="853.7" font-size="6.4" fill="#333333" textLength="121.4" lengthAdjust="spacingAndGlyphs">regulation of stress−activated MAPK cascade</text>
<text x="455.6" y="873.1" font-size="6.4" fill="#333333" textLength="98.6" lengthAdjust="spacingAndGlyphs">regulation of stress−activated protein</text>
<text x="455.6" y="880.1" font-size="6.4" fill="#333333" textLength="67.0" lengthAdjust="spacingAndGlyphs">kinase signaling cascade</text>
<text x="384.2" y="890.0" font-size="6.4" fill="#333333" textLength="83.5" lengthAdjust="spacingAndGlyphs">receptor−mediated endocytosis</text>
<text x="367.8" y="883.2" font-size="6.4" fill="#333333" textLength="38.8" lengthAdjust="spacingAndGlyphs">import into cell</text>
<circle cx="355.2" cy="857.9" r="1.5" fill="#ff1a1a"/>
<text x="346.3" y="866.4" font-size="8.2" font-style="italic" fill="#000" textLength="15.0" lengthAdjust="spacingAndGlyphs">App</text>
<circle cx="335.3" cy="831.8" r="1.5" fill="#ff1a1a"/>
<text x="327.3" y="839.3" font-size="6.2" font-style="italic" fill="#000" textLength="16.0" lengthAdjust="spacingAndGlyphs">Ncor1</text>
<circle cx="326.2" cy="800.3" r="1.5" fill="#ff1a1a"/>
<text x="320.8" y="808.6" font-size="6.2" font-style="italic" fill="#000" textLength="9.4" lengthAdjust="spacingAndGlyphs">Ezr</text>
<circle cx="329.2" cy="767.7" r="1.5" fill="#ff1a1a"/>
<text x="319.5" y="775.6" font-size="6.2" font-style="italic" fill="#000" textLength="15.4" lengthAdjust="spacingAndGlyphs">Atad1</text>
<circle cx="344.0" cy="738.5" r="1.5" fill="#ff1a1a"/>
<text x="330.5" y="746.2" font-size="6.2" font-style="italic" fill="#000" textLength="16.7" lengthAdjust="spacingAndGlyphs">Ncoa1</text>
<circle cx="368.5" cy="716.4" r="1.5" fill="#ff1a1a"/>
<text x="351.2" y="724.3" font-size="6.2" font-style="italic" fill="#000" textLength="18.7" lengthAdjust="spacingAndGlyphs">Atp1b3</text>
<circle cx="399.4" cy="704.6" r="1.5" fill="#ff1a1a"/>
<text x="373.4" y="712.9" font-size="8.2" font-style="italic" fill="#000" textLength="24.9" lengthAdjust="spacingAndGlyphs">Slc1a3</text>
<text x="558.9" y="791.6" font-size="6.3" fill="#000">size</text>
<circle cx="562.40" cy="796.30" r="1.00" fill="#d8c08f"/>
<text x="566.0" y="798.4" font-size="6.0" fill="#000">2.00</text>
<circle cx="562.40" cy="801.50" r="1.80" fill="#d8c08f"/>
<text x="566.0" y="803.6" font-size="6.0" fill="#000">2.25</text>
<circle cx="562.40" cy="806.60" r="2.20" fill="#d8c08f"/>
<text x="566.0" y="808.7" font-size="6.0" fill="#000">2.50</text>
<circle cx="562.40" cy="812.30" r="2.50" fill="#d8c08f"/>
<text x="566.0" y="814.4" font-size="6.0" fill="#000">2.75</text>
<circle cx="562.40" cy="818.20" r="2.80" fill="#d8c08f"/>
<text x="566.0" y="820.3" font-size="6.0" fill="#000">3.00</text>
<text x="558.9" y="827.0" font-size="6.3" fill="#000">category</text>
<line x1="559.70" y1="831.70" x2="563.70" y2="831.70" stroke="#F8766D" stroke-width="0.9"/>
<text x="566.00" y="832.40" font-size="6.1" fill="#000">import into cell</text>
<line x1="559.70" y1="836.60" x2="563.70" y2="836.60" stroke="#D89000" stroke-width="0.9"/>
<text x="566.00" y="837.30" font-size="6.1" fill="#000">mating behavior</text>
<line x1="559.70" y1="841.30" x2="563.70" y2="841.30" stroke="#A3A500" stroke-width="0.9"/>
<text x="566.00" y="842.00" font-size="6.1" fill="#000">multicellular organism growth</text>
<line x1="559.70" y1="846.40" x2="563.70" y2="846.40" stroke="#39B600" stroke-width="0.9"/>
<text x="566.00" y="847.10" font-size="6.1" fill="#000">positive regulation of receptor internalization</text>
<line x1="559.70" y1="851.50" x2="563.70" y2="851.50" stroke="#00BF7D" stroke-width="0.9"/>
<text x="566.00" y="852.20" font-size="6.1" fill="#000">receptor internalization</text>
<line x1="559.70" y1="856.20" x2="563.70" y2="856.20" stroke="#00BFC4" stroke-width="0.9"/>
<text x="566.00" y="856.90" font-size="6.1" fill="#000">receptor−mediated endocytosis</text>
<line x1="559.70" y1="861.10" x2="563.70" y2="861.10" stroke="#00B0F6" stroke-width="0.9"/>
<text x="566.00" y="861.80" font-size="6.1" fill="#000">receptor metabolic process</text>
<line x1="559.70" y1="865.80" x2="563.70" y2="865.80" stroke="#9590FF" stroke-width="0.9"/>
<text x="566.00" y="866.50" font-size="6.1" fill="#000">regulation of multicellular organism growth</text>
<line x1="559.70" y1="870.90" x2="563.70" y2="870.90" stroke="#E76BF3" stroke-width="0.9"/>
<text x="566.00" y="871.60" font-size="6.1" fill="#000">regulation of stress−activated</text>
<text x="566.00" y="876.50" font-size="6.1" fill="#000">MAPK cascade</text>
<line x1="559.70" y1="880.10" x2="563.70" y2="880.10" stroke="#FF62BC" stroke-width="0.9"/>
<text x="566.00" y="880.80" font-size="6.1" fill="#000">regulation of stress−activated</text>
<text x="566.00" y="885.70" font-size="6.1" fill="#000">protein kinase signaling cascade</text>
</svg></body></html>
